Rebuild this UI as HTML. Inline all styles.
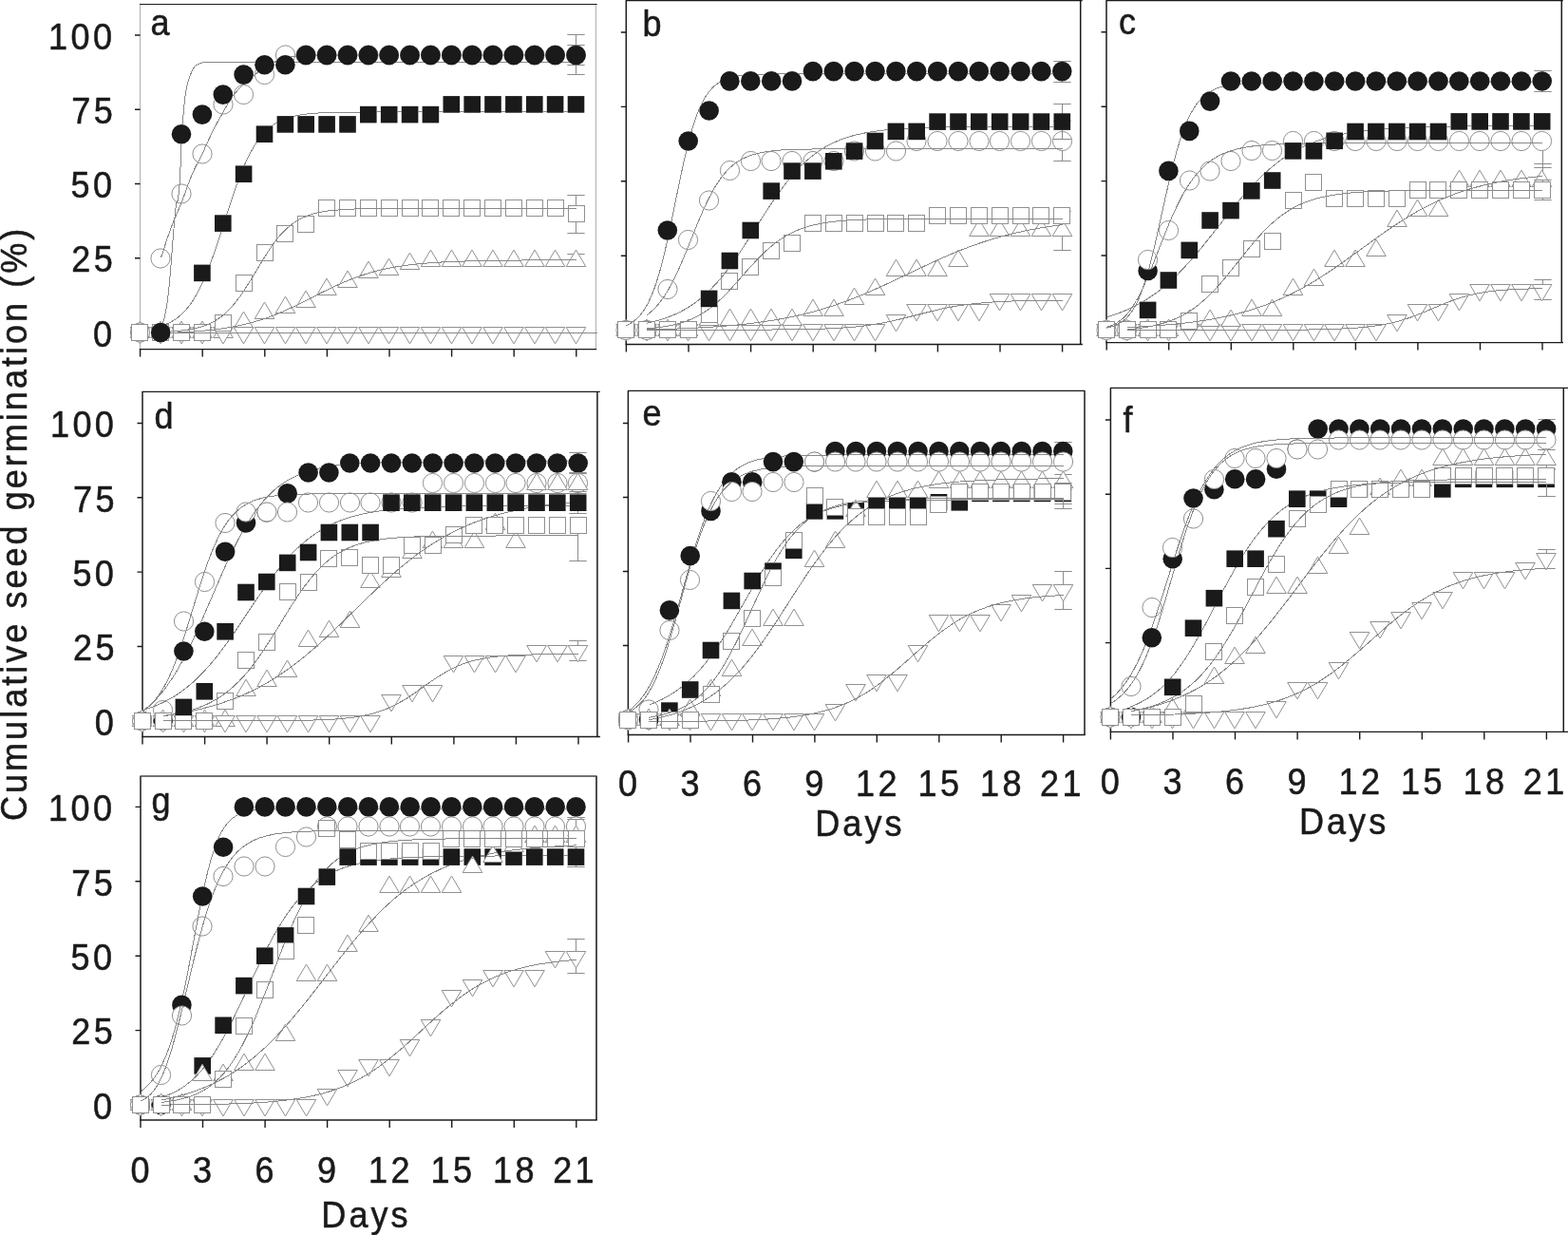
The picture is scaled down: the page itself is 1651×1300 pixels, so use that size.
<!DOCTYPE html>
<html lang="en">
<head>
<meta charset="utf-8">
<title>Cumulative seed germination</title>
<style>
html,body{margin:0;padding:0;background:#fff}
body{width:1651px;height:1300px;overflow:hidden}
svg{display:block}
text{font-family:'Liberation Sans', sans-serif;fill:#1a1a1a;stroke:#1a1a1a;stroke-width:0.55px;stroke-linejoin:round}
.yl{font-size:39.2px;text-anchor:end;letter-spacing:3.7px}
.xl{font-size:39.2px;text-anchor:middle;letter-spacing:3.7px}
.lt{font-size:39.2px}
.dl{font-size:39.2px;text-anchor:middle;letter-spacing:3.3px}
.ya{font-size:39.2px;text-anchor:middle;letter-spacing:3.27px}
path{fill:none}
.fr{stroke:#aeaeae;stroke-width:1}
.md{stroke:#444;stroke-width:1.9}
.g17{stroke:#444;stroke-width:1.7}
.k1{stroke:#1a1a1a;stroke-width:1.15}
.dk{stroke:#1a1a1a;stroke-width:1.5}
.ax{stroke:#1a1a1a;stroke-width:1.4}
.tk{stroke:#1a1a1a;stroke-width:1.4}
.cv{stroke:#888888;stroke-width:1;stroke-linejoin:round;mix-blend-mode:darken;shape-rendering:crispEdges}
.eb{stroke:#8c8c8c;stroke-width:1}
.f circle,.f rect{fill:#1a1a1a;stroke:none}
.o circle,.o rect,.o path{fill:#fff;stroke:#909090;stroke-width:1}
</style>
</head>
<body>
<svg width="1651" height="1300" viewBox="0 0 1651 1300" role="img" aria-label="Cumulative seed germination over 21 days, panels a to g">
<rect width="1651" height="1300" fill="#fff"/>
<g id="panel-a">
<path d="M147.5 4.5V367.6" class="fr"/>
<path d="M627.5 4.5V367.6" class="fr"/>
<path d="M147 4.5H628.6" class="k1"/>
<path d="M146.8 367.6H628.2" class="ax"/>
<path d="M147.6 367.6v8M213.2 367.6v8M278.8 367.6v8M344.4 367.6v8M410 367.6v8M475.6 367.6v8M541.2 367.6v8M606.8 367.6v8M147.5 350h-5.5M147.5 271.8h-5.5M147.5 193.5h-5.5M147.5 115.2h-5.5M147.5 37h-5.5" class="tk"/>
<path d="M606.5 267.5V274.5M597.3 267.5h18.4" class="eb"/>
<g class="o">
<path d="M147.5 338.1L157.8 355.5H137.2Z"/><path d="M169 338.1L179.3 355.5H158.7Z"/><path d="M191 338.1L201.3 355.5H180.7Z"/><path d="M213 338.1L223.3 355.5H202.7Z"/><path d="M235 338.1L245.3 355.5H224.7Z"/><path d="M256.5 328.1L266.8 345.5H246.2Z"/><path d="M278.5 318.1L288.8 335.5H268.2Z"/><path d="M300.5 312.1L310.8 329.5H290.2Z"/><path d="M322 306.1L332.3 323.5H311.7Z"/><path d="M344 293.1L354.3 310.5H333.7Z"/><path d="M366 285.1L376.3 302.5H355.7Z"/><path d="M388 275.1L398.3 292.5H377.7Z"/><path d="M409.5 272.1L419.8 289.5H399.2Z"/><path d="M431.5 266.1L441.8 283.5H421.2Z"/><path d="M453.5 263.1L463.8 280.5H443.2Z"/><path d="M475.5 263.1L485.8 280.5H465.2Z"/><path d="M497 263.1L507.3 280.5H486.7Z"/><path d="M519 263.1L529.3 280.5H508.7Z"/><path d="M541 263.1L551.3 280.5H530.7Z"/><path d="M563 263.1L573.3 280.5H552.7Z"/><path d="M584.5 263.1L594.8 280.5H574.2Z"/><path d="M606.5 263.1L616.8 280.5H596.2Z"/>
</g>
<g class="o">
<path d="M147.5 361.9L157.8 344.5H137.2Z"/><path d="M169 361.9L179.3 344.5H158.7Z"/><path d="M191 361.9L201.3 344.5H180.7Z"/><path d="M213 361.9L223.3 344.5H202.7Z"/><path d="M235 361.9L245.3 344.5H224.7Z"/><path d="M256.5 361.9L266.8 344.5H246.2Z"/><path d="M278.5 361.9L288.8 344.5H268.2Z"/><path d="M300.5 361.9L310.8 344.5H290.2Z"/><path d="M322 361.9L332.3 344.5H311.7Z"/><path d="M344 361.9L354.3 344.5H333.7Z"/><path d="M366 361.9L376.3 344.5H355.7Z"/><path d="M388 361.9L398.3 344.5H377.7Z"/><path d="M409.5 361.9L419.8 344.5H399.2Z"/><path d="M431.5 361.9L441.8 344.5H421.2Z"/><path d="M453.5 361.9L463.8 344.5H443.2Z"/><path d="M475.5 361.9L485.8 344.5H465.2Z"/><path d="M497 361.9L507.3 344.5H486.7Z"/><path d="M519 361.9L529.3 344.5H508.7Z"/><path d="M541 361.9L551.3 344.5H530.7Z"/><path d="M563 361.9L573.3 344.5H552.7Z"/><path d="M584.5 361.9L594.8 344.5H574.2Z"/><path d="M606.5 361.9L616.8 344.5H596.2Z"/>
</g>
<path d="M606.5 47.5V68.5M597.3 47.5h18.4M597.3 68.5h18.4" class="eb"/>
<g class="o">
<circle cx="147.5" cy="350" r="10.1"/><circle cx="169" cy="272" r="10.1"/><circle cx="191" cy="204" r="10.1"/><circle cx="213" cy="162" r="10.1"/><circle cx="235" cy="110" r="10.1"/><circle cx="256.5" cy="99.5" r="10.1"/><circle cx="278.5" cy="78.5" r="10.1"/><circle cx="300.5" cy="58" r="10.1"/><circle cx="322" cy="58" r="10.1"/><circle cx="344" cy="58" r="10.1"/><circle cx="366" cy="58" r="10.1"/><circle cx="388" cy="58" r="10.1"/><circle cx="409.5" cy="58" r="10.1"/><circle cx="431.5" cy="58" r="10.1"/><circle cx="453.5" cy="58" r="10.1"/><circle cx="475.5" cy="58" r="10.1"/><circle cx="497" cy="58" r="10.1"/><circle cx="519" cy="58" r="10.1"/><circle cx="541" cy="58" r="10.1"/><circle cx="563" cy="58" r="10.1"/><circle cx="584.5" cy="58" r="10.1"/><circle cx="606.5" cy="58" r="10.1"/>
</g>
<path d="M606.5 205.5V245.5M597.3 205.5h18.4M597.3 245.5h18.4" class="eb"/>
<g class="o">
<rect x="138.5" y="341.5" width="17" height="17"/><rect x="160.5" y="341.5" width="17" height="17"/><rect x="182.5" y="341.5" width="17" height="17"/><rect x="204.5" y="341.5" width="17" height="17"/><rect x="226.5" y="331.5" width="17" height="17"/><rect x="248.5" y="289.5" width="17" height="17"/><rect x="270.5" y="257.5" width="17" height="17"/><rect x="291.5" y="237.5" width="17" height="17"/><rect x="313.5" y="227.5" width="17" height="17"/><rect x="335.5" y="210.5" width="17" height="17"/><rect x="357.5" y="210.5" width="17" height="17"/><rect x="379.5" y="210.5" width="17" height="17"/><rect x="401.5" y="210.5" width="17" height="17"/><rect x="423.5" y="210.5" width="17" height="17"/><rect x="444.5" y="210.5" width="17" height="17"/><rect x="466.5" y="210.5" width="17" height="17"/><rect x="488.5" y="210.5" width="17" height="17"/><rect x="510.5" y="210.5" width="17" height="17"/><rect x="532.5" y="210.5" width="17" height="17"/><rect x="554.5" y="210.5" width="17" height="17"/><rect x="576.5" y="210.5" width="17" height="17"/><rect x="598.5" y="216.5" width="17" height="17"/>
</g>
<g class="f">
<rect x="204.1" y="278.6" width="17.6" height="17.6"/><rect x="226" y="226.3" width="17.6" height="17.6"/><rect x="247.8" y="174.4" width="17.6" height="17.6"/><rect x="269.7" y="132.4" width="17.6" height="17.6"/><rect x="291.6" y="122.1" width="17.6" height="17.6"/><rect x="313.4" y="122.1" width="17.6" height="17.6"/><rect x="335.3" y="122.1" width="17.6" height="17.6"/><rect x="357.2" y="122.1" width="17.6" height="17.6"/><rect x="379" y="111.8" width="17.6" height="17.6"/><rect x="400.9" y="111.8" width="17.6" height="17.6"/><rect x="422.8" y="111.8" width="17.6" height="17.6"/><rect x="444.6" y="111.8" width="17.6" height="17.6"/><rect x="466.5" y="101.1" width="17.6" height="17.6"/><rect x="488.4" y="101.1" width="17.6" height="17.6"/><rect x="510.2" y="101.1" width="17.6" height="17.6"/><rect x="532.1" y="101.1" width="17.6" height="17.6"/><rect x="554" y="101.1" width="17.6" height="17.6"/><rect x="575.8" y="101.1" width="17.6" height="17.6"/><rect x="597.7" y="101.1" width="17.6" height="17.6"/>
</g>
<path d="M606.5 36.5V78.5M597.3 36.5h18.4M597.3 78.5h18.4" class="eb"/>
<g class="f">
<circle cx="169.2" cy="350" r="10.3"/><circle cx="191" cy="141.2" r="10.3"/><circle cx="212.9" cy="120.6" r="10.3"/><circle cx="234.8" cy="99.6" r="10.3"/><circle cx="256.6" cy="78.6" r="10.3"/><circle cx="278.5" cy="68.3" r="10.3"/><circle cx="300.4" cy="68.3" r="10.3"/><circle cx="322.2" cy="58" r="10.3"/><circle cx="344.1" cy="58" r="10.3"/><circle cx="366" cy="58" r="10.3"/><circle cx="387.8" cy="58" r="10.3"/><circle cx="409.7" cy="58" r="10.3"/><circle cx="431.6" cy="58" r="10.3"/><circle cx="453.4" cy="58" r="10.3"/><circle cx="475.3" cy="58" r="10.3"/><circle cx="497.2" cy="58" r="10.3"/><circle cx="519" cy="58" r="10.3"/><circle cx="540.9" cy="58" r="10.3"/><circle cx="562.8" cy="58" r="10.3"/><circle cx="584.6" cy="58" r="10.3"/><circle cx="606.5" cy="58" r="10.3"/>
</g>
<path d="M169.5 340L171.5 340L173.4 333.3L175.4 323.5L177.4 308.3L179.4 286.8L183.4 235.6L185.4 214.7L187.4 210.8L189.3 192.1L191.3 145.6L193.3 116.7L195.3 98.1L197.3 88.5L199.3 81.9L201.3 76.8L203.3 72.5L205.2 69.6L207.2 68.3L209.2 67.3L211.2 66.5L213.2 65.9L215.2 65.6L217.2 65.6L606.8 65.6" class="cv"/>
<path d="M169.5 271L171.5 265.4L175.4 253.2L179.4 241.6L181.4 236.4L183.4 231.5L189.3 217.5L191.3 212.7L193.3 207.4L199.3 190.8L201.3 185.7L203.3 181.2L205.2 177.1L211.2 165.6L213.2 161.6L221.2 144L225.1 135.8L231.1 124.8L239 110.9L243 104.3L245 101.3L247 98.7L251 94.1L253 92L256.9 88.1L258.9 86.3L262.9 83L274.8 73.5L276.8 72.1L278.8 70.7L280.8 69.5L284.8 67.3L288.7 65.2L292.7 63.3L294.7 62.5L298.7 61.3L300.7 60.9L306.6 59.8L312.6 58.9L316.6 58.5L320.5 58.4L342.4 58.1L364.3 58L606.8 58" class="cv"/>
<path d="M169.5 343.4L173.4 342L175.4 341.1L179.4 339.2L181.4 338.1L185.4 335.6L187.4 334.1L191.3 330.7L193.3 328.8L195.3 326.6L197.3 324.3L199.3 321.8L201.3 319.1L203.3 316.1L205.2 313L207.2 309.5L211.2 301.9L213.2 297.7L217.2 288.6L221.2 278.5L225.1 267.5L229.1 255.8L243 212.8L249 195.4L253 184.7L254.9 179.7L258.9 170.5L260.9 166.3L262.9 162.3L264.9 158.6L266.9 155.1L268.9 151.9L270.9 148.9L272.8 146.1L274.8 143.5L276.8 141.2L278.8 139L280.8 137.1L282.8 135.3L286.8 132.1L288.7 130.7L292.7 128.4L296.7 126.4L298.7 125.6L302.7 124.1L308.6 122.5L314.6 121.2L320.5 120.3L328.5 119.5L336.5 118.9L346.4 118.5L366.3 118.1L396.1 118L606.8 117.9" class="cv"/>
<path d="M169.5 349.6L181.4 348.9L191.3 348L199.3 346.9L203.3 346.2L207.2 345.3L211.2 344.2L215.2 342.9L219.2 341.3L221.2 340.4L225.1 338.4L227.1 337.3L231.1 334.6L233.1 333.2L237.1 329.9L239 328.1L243 324.1L247 319.5L249 317L253 311.7L256.9 305.9L260.9 299.7L264.9 293.3L276.8 273.4L282.8 264L286.8 258.2L288.7 255.4L292.7 250.3L294.7 248L298.7 243.7L302.7 239.9L306.6 236.6L310.6 233.8L314.6 231.3L318.6 229.3L322.5 227.6L328.5 225.5L332.5 224.4L338.4 223.1L342.4 222.4L348.4 221.6L354.3 221.1L362.3 220.5L370.2 220.1L380.2 219.8L400.1 219.5L427.9 219.4L606.8 219.4" class="cv"/>
<path d="M169.5 350.7L185.4 350.1L199.3 349.4L213.2 348.3L225.1 347.1L237.1 345.4L247 343.7L256.9 341.6L266.9 339L274.8 336.7L282.8 334L290.7 330.9L298.7 327.6L306.6 324L314.6 320.2L340.4 307.1L350.4 302.3L360.3 297.8L370.2 293.7L380.2 290.1L386.1 288.2L392.1 286.4L398.1 284.8L404 283.4L410 282.2L416 281.1L421.9 280.1L429.9 279L435.8 278.3L443.8 277.5L459.7 276.3L469.6 275.7L479.6 275.3L501.4 274.6L527.3 274.2L561.1 273.9L606.8 273.8" class="cv"/>
<path d="M169.5 350L628.5 350" class="cv"/>
<text transform="translate(158.6 36.8) scale(0.92 1)" class="lt">a</text>
<text transform="translate(121.5 51.7) scale(0.92 1)" class="yl">100</text>
<text transform="translate(122.1 129.9) scale(0.92 1)" class="yl">75</text>
<text transform="translate(121.5 208.2) scale(0.92 1)" class="yl">50</text>
<text transform="translate(122.1 286.4) scale(0.92 1)" class="yl">25</text>
<text transform="translate(121.5 364.7) scale(0.92 1)" class="yl">0</text>
</g>
<g id="panel-b">
<path d="M659.3 0.6V362.5" class="dk"/>
<path d="M1137.7 0.6V362.5" class="dk"/>
<path d="M658.8 0.6H1139.7" class="k1"/>
<path d="M658.6 362.5H1139.9" class="ax"/>
<path d="M659.4 362.5v8M725 362.5v8M790.6 362.5v8M856.2 362.5v8M921.8 362.5v8M987.4 362.5v8M1053 362.5v8M1118.6 362.5v8M659.3 347.6h-5.5M659.3 269.2h-5.5M659.3 190.8h-5.5M659.3 112.4h-5.5M659.3 34h-5.5" class="tk"/>
<g class="o">
<path d="M659 358.9L669.3 341.5H648.7Z"/><path d="M681 358.9L691.3 341.5H670.7Z"/><path d="M703 358.9L713.3 341.5H692.7Z"/><path d="M724.5 358.9L734.8 341.5H714.2Z"/><path d="M746.5 358.9L756.8 341.5H736.2Z"/><path d="M768.5 358.9L778.8 341.5H758.2Z"/><path d="M790.5 358.9L800.8 341.5H780.2Z"/><path d="M812 358.9L822.3 341.5H801.7Z"/><path d="M834 358.9L844.3 341.5H823.7Z"/><path d="M856 358.9L866.3 341.5H845.7Z"/><path d="M878 358.9L888.3 341.5H867.7Z"/><path d="M899.5 358.9L909.8 341.5H889.2Z"/><path d="M921.5 358.9L931.8 341.5H911.2Z"/><path d="M943.5 348.9L953.8 331.5H933.2Z"/><path d="M965 337.9L975.3 320.5H954.7Z"/><path d="M987 337.9L997.3 320.5H976.7Z"/><path d="M1009 337.9L1019.3 320.5H998.7Z"/><path d="M1031 337.9L1041.3 320.5H1020.7Z"/><path d="M1052.5 326.9L1062.8 309.5H1042.2Z"/><path d="M1074.5 326.9L1084.8 309.5H1064.2Z"/><path d="M1096.5 326.9L1106.8 309.5H1086.2Z"/><path d="M1118.5 326.9L1128.8 309.5H1108.2Z"/>
</g>
<path d="M1118.5 222.5V263.5M1109.3 222.5h18.4M1109.3 263.5h18.4" class="eb"/>
<g class="o">
<path d="M659 336.1L669.3 353.5H648.7Z"/><path d="M681 336.1L691.3 353.5H670.7Z"/><path d="M703 336.1L713.3 353.5H692.7Z"/><path d="M724.5 336.1L734.8 353.5H714.2Z"/><path d="M746.5 325.1L756.8 342.5H736.2Z"/><path d="M768.5 325.1L778.8 342.5H758.2Z"/><path d="M790.5 325.1L800.8 342.5H780.2Z"/><path d="M812 325.1L822.3 342.5H801.7Z"/><path d="M834 325.1L844.3 342.5H823.7Z"/><path d="M856 315.1L866.3 332.5H845.7Z"/><path d="M878 315.1L888.3 332.5H867.7Z"/><path d="M899.5 303.1L909.8 320.5H889.2Z"/><path d="M921.5 293.1L931.8 310.5H911.2Z"/><path d="M943.5 273.1L953.8 290.5H933.2Z"/><path d="M965 273.1L975.3 290.5H954.7Z"/><path d="M987 273.1L997.3 290.5H976.7Z"/><path d="M1009 263.1L1019.3 280.5H998.7Z"/><path d="M1031 231.1L1041.3 248.5H1020.7Z"/><path d="M1052.5 231.1L1062.8 248.5H1042.2Z"/><path d="M1074.5 231.1L1084.8 248.5H1064.2Z"/><path d="M1096.5 231.1L1106.8 248.5H1086.2Z"/><path d="M1118.5 231.1L1128.8 248.5H1108.2Z"/>
</g>
<path d="M1118.5 127.5V169.5M1109.3 127.5h18.4M1109.3 169.5h18.4" class="eb"/>
<g class="o">
<circle cx="659" cy="347.5" r="10.1"/><circle cx="681" cy="347.5" r="10.1"/><circle cx="703" cy="304.5" r="10.1"/><circle cx="724.5" cy="252.5" r="10.1"/><circle cx="746.5" cy="211" r="10.1"/><circle cx="768.5" cy="179.5" r="10.1"/><circle cx="790.5" cy="169.5" r="10.1"/><circle cx="812" cy="169.5" r="10.1"/><circle cx="834" cy="169.5" r="10.1"/><circle cx="856" cy="169.5" r="10.1"/><circle cx="878" cy="169.5" r="10.1"/><circle cx="899.5" cy="159" r="10.1"/><circle cx="921.5" cy="159" r="10.1"/><circle cx="943.5" cy="159" r="10.1"/><circle cx="965" cy="148.5" r="10.1"/><circle cx="987" cy="148.5" r="10.1"/><circle cx="1009" cy="148.5" r="10.1"/><circle cx="1031" cy="148.5" r="10.1"/><circle cx="1052.5" cy="148.5" r="10.1"/><circle cx="1074.5" cy="148.5" r="10.1"/><circle cx="1096.5" cy="148.5" r="10.1"/><circle cx="1118.5" cy="148.5" r="10.1"/>
</g>
<g class="o">
<rect x="650.5" y="338.5" width="17" height="17"/><rect x="672.5" y="338.5" width="17" height="17"/><rect x="694.5" y="338.5" width="17" height="17"/><rect x="716.5" y="338.5" width="17" height="17"/><rect x="738.5" y="322.5" width="17" height="17"/><rect x="759.5" y="287.5" width="17" height="17"/><rect x="781.5" y="272.5" width="17" height="17"/><rect x="803.5" y="255.5" width="17" height="17"/><rect x="825.5" y="247.5" width="17" height="17"/><rect x="847.5" y="226.5" width="17" height="17"/><rect x="869.5" y="226.5" width="17" height="17"/><rect x="891.5" y="226.5" width="17" height="17"/><rect x="913.5" y="226.5" width="17" height="17"/><rect x="934.5" y="226.5" width="17" height="17"/><rect x="956.5" y="226.5" width="17" height="17"/><rect x="978.5" y="218.5" width="17" height="17"/><rect x="1000.5" y="218.5" width="17" height="17"/><rect x="1022.5" y="218.5" width="17" height="17"/><rect x="1044.5" y="218.5" width="17" height="17"/><rect x="1066.5" y="218.5" width="17" height="17"/><rect x="1087.5" y="218.5" width="17" height="17"/><rect x="1109.5" y="218.5" width="17" height="17"/>
</g>
<path d="M1118.5 64.5V86.5M1109.3 64.5h18.4M1109.3 86.5h18.4" class="eb"/>
<g class="f">
<circle cx="702.8" cy="242.5" r="10.3"/><circle cx="724.7" cy="148.5" r="10.3"/><circle cx="746.6" cy="116.5" r="10.3"/><circle cx="768.4" cy="85.4" r="10.3"/><circle cx="790.3" cy="85.4" r="10.3"/><circle cx="812.2" cy="85.4" r="10.3"/><circle cx="834" cy="85.4" r="10.3"/><circle cx="855.9" cy="75.1" r="10.3"/><circle cx="877.8" cy="75.1" r="10.3"/><circle cx="899.6" cy="75.1" r="10.3"/><circle cx="921.5" cy="75.1" r="10.3"/><circle cx="943.4" cy="75.1" r="10.3"/><circle cx="965.2" cy="75.1" r="10.3"/><circle cx="987.1" cy="75.1" r="10.3"/><circle cx="1009" cy="75.1" r="10.3"/><circle cx="1030.8" cy="75.1" r="10.3"/><circle cx="1052.7" cy="75.1" r="10.3"/><circle cx="1074.6" cy="75.1" r="10.3"/><circle cx="1096.4" cy="75.1" r="10.3"/><circle cx="1118.3" cy="75.1" r="10.3"/>
</g>
<path d="M1118.5 109.5V146.5M1109.3 109.5h18.4M1109.3 146.5h18.4" class="eb"/>
<g class="f">
<rect x="737.8" y="305.6" width="17.6" height="17.6"/><rect x="759.6" y="265.7" width="17.6" height="17.6"/><rect x="781.5" y="233.7" width="17.6" height="17.6"/><rect x="803.4" y="192.3" width="17.6" height="17.6"/><rect x="825.2" y="171.3" width="17.6" height="17.6"/><rect x="847.1" y="171.3" width="17.6" height="17.6"/><rect x="869" y="161" width="17.6" height="17.6"/><rect x="890.8" y="150.3" width="17.6" height="17.6"/><rect x="912.7" y="139.7" width="17.6" height="17.6"/><rect x="934.6" y="129.6" width="17.6" height="17.6"/><rect x="956.4" y="129.6" width="17.6" height="17.6"/><rect x="978.3" y="119.3" width="17.6" height="17.6"/><rect x="1000.2" y="119.3" width="17.6" height="17.6"/><rect x="1022" y="119.3" width="17.6" height="17.6"/><rect x="1043.9" y="119.3" width="17.6" height="17.6"/><rect x="1065.8" y="119.3" width="17.6" height="17.6"/><rect x="1087.6" y="119.3" width="17.6" height="17.6"/><rect x="1109.5" y="119.3" width="17.6" height="17.6"/>
</g>
<path d="M1118.5 109.5V146.5M1109.3 146.5h18.4" class="cv"/>
<path d="M659.4 342.7L661.5 341.7L663.6 340.6L665.7 339.2L667.7 337.7L669.8 336L671.9 334L674 331.8L676.1 329.2L678.2 326.2L680.3 322.8L682.4 319L684.4 314.7L686.5 309.9L688.6 304.6L690.7 298.6L692.8 292.1L694.9 285L697 277.2L699.1 268.9L701.1 260.1L705.3 241L715.8 190L719.9 170.6L724.1 152.9L726.2 144.9L728.3 137.5L730.4 130.7L732.5 124.5L734.5 118.9L736.6 113.9L738.7 109.4L740.8 105.4L742.9 101.8L745 98.7L747.1 95.9L749.2 93.5L751.2 91.4L753.3 89.6L755.4 88L757.5 86.6L759.6 85.4L761.7 84.3L763.8 83.4L767.9 82L772.1 80.9L776.3 80.1L782.6 79.3L788.8 78.7L797.2 78.3L805.5 78.1L822.2 77.9L849.3 77.8L1118.6 77.8" class="cv"/>
<path d="M681.3 331.6L685.2 328.5L689.2 324.7L693.2 320.3L695.2 317.8L699.2 312.3L701.1 309.2L703.1 306L707.1 298.9L711.1 291L713.1 286.8L717 277.9L723 263.7L734.9 234.1L740.9 220.3L744.9 211.7L748.9 203.9L752.8 196.9L754.8 193.7L756.8 190.7L760.8 185.2L764.8 180.5L768.7 176.5L772.7 173.1L776.7 170.2L780.7 167.8L782.7 166.8L786.6 165L790.6 163.5L796.6 161.7L802.5 160.4L808.5 159.4L814.5 158.7L822.4 158L832.3 157.5L842.3 157.2L862.2 156.9L894 156.8L1118.6 156.7" class="cv"/>
<path d="M681.3 340.1L687.2 338.8L691.2 337.8L697.2 336L701.1 334.7L705.1 333.2L709.1 331.6L713.1 329.8L717 327.9L721 325.7L725 323.3L729 320.7L733 317.9L736.9 314.8L740.9 311.5L746.9 306L752.8 299.8L758.8 293.1L764.8 285.7L770.7 277.7L776.7 269.2L782.7 260.3L788.6 251L804.5 226L814.5 210.8L820.4 202.3L824.4 196.9L828.4 191.7L832.3 186.8L838.3 180L842.3 175.8L848.3 170L854.2 164.9L860.2 160.4L866.1 156.4L872.1 153L878.1 150L884 147.5L888 146L892 144.6L899.9 142.3L907.9 140.5L915.8 139L925.8 137.6L935.7 136.5L945.7 135.7L957.6 135L969.5 134.5L983.4 134.1L1001.3 133.8L1045.1 133.4L1118.6 133.3" class="cv"/>
<path d="M681.3 345.8L691.2 344.9L699.2 343.9L707.1 342.4L711.1 341.5L715.1 340.5L719 339.3L723 337.9L729 335.5L734.9 332.6L740.9 329.1L746.9 325L750.8 321.9L754.8 318.6L760.8 313.1L764.8 309.1L770.7 302.8L788.6 282.6L796.6 273.9L800.5 269.8L804.5 265.9L808.5 262.3L812.5 258.9L816.4 255.7L822.4 251.5L826.4 249L832.3 245.7L836.3 243.8L842.3 241.3L848.3 239.2L854.2 237.5L860.2 236.1L866.1 235L872.1 234L880.1 233L888 232.3L896 231.7L905.9 231.2L917.8 230.8L939.7 230.4L971.5 230.2L1118.6 230.1" class="cv"/>
<path d="M681.3 347L709.1 346.2L734.9 345L746.9 344.3L758.8 343.5L768.7 342.7L778.7 341.8L788.6 340.7L798.6 339.4L808.5 338L816.4 336.7L826.4 335L834.3 333.4L842.3 331.6L850.2 329.7L858.2 327.6L864.2 325.9L876.1 322.2L882 320.2L890 317.4L903.9 312L915.8 307L929.8 300.8L941.7 295.2L975.5 279.1L993.4 271L1003.3 266.7L1011.3 263.5L1021.2 259.7L1029.2 256.8L1039.1 253.5L1049 250.5L1059 247.7L1070.9 244.8L1082.8 242.3L1094.8 240.1L1106.7 238.2L1118.6 236.6" class="cv"/>
<path d="M681.3 347.3L782.7 347.2L830.4 346.9L848.3 346.6L864.2 346.2L878.1 345.6L890 344.9L899.9 344.1L909.9 343L919.8 341.6L929.8 339.9L937.7 338.3L947.6 336L977.5 328.5L991.4 325.2L999.3 323.6L1005.3 322.5L1011.3 321.5L1019.2 320.4L1027.2 319.5L1037.1 318.6L1047 317.9L1059 317.2L1070.9 316.8L1084.8 316.5L1118.6 316.1" class="cv"/>
<text transform="translate(676.6 37.8) scale(0.92 1)" class="lt">b</text>
</g>
<g id="panel-c">
<path d="M1165 0.6V360.6" class="dk"/>
<path d="M1644.3 0.6V360.6" class="dk"/>
<path d="M1164.5 0.6H1645.8" class="k1"/>
<path d="M1164.3 360.6H1646" class="ax"/>
<path d="M1165.2 360.6v8M1230.7 360.6v8M1296.3 360.6v8M1361.8 360.6v8M1427.4 360.6v8M1492.9 360.6v8M1558.5 360.6v8M1624 360.6v8M1165 347.4h-5.5M1165 269h-5.5M1165 190.6h-5.5M1165 112.2h-5.5M1165 33.8h-5.5" class="tk"/>
<path d="M1624.5 294.5V315.5M1615.3 294.5h18.4M1615.3 315.5h18.4" class="eb"/>
<g class="o">
<path d="M1165 358.9L1175.3 341.5H1154.7Z"/><path d="M1186.5 358.9L1196.8 341.5H1176.2Z"/><path d="M1208.5 358.9L1218.8 341.5H1198.2Z"/><path d="M1230.5 358.9L1240.8 341.5H1220.2Z"/><path d="M1252.5 358.9L1262.8 341.5H1242.2Z"/><path d="M1274 358.9L1284.3 341.5H1263.7Z"/><path d="M1296 358.9L1306.3 341.5H1285.7Z"/><path d="M1318 358.9L1328.3 341.5H1307.7Z"/><path d="M1339.5 358.9L1349.8 341.5H1329.2Z"/><path d="M1361.5 358.9L1371.8 341.5H1351.2Z"/><path d="M1383.5 358.9L1393.8 341.5H1373.2Z"/><path d="M1405 358.9L1415.3 341.5H1394.7Z"/><path d="M1427 358.9L1437.3 341.5H1416.7Z"/><path d="M1449 358.9L1459.3 341.5H1438.7Z"/><path d="M1471 348.9L1481.3 331.5H1460.7Z"/><path d="M1492.5 337.9L1502.8 320.5H1482.2Z"/><path d="M1514.5 337.9L1524.8 320.5H1504.2Z"/><path d="M1536.5 326.9L1546.8 309.5H1526.2Z"/><path d="M1558 316.9L1568.3 299.5H1547.7Z"/><path d="M1580 316.9L1590.3 299.5H1569.7Z"/><path d="M1602 316.9L1612.3 299.5H1591.7Z"/><path d="M1623.5 316.9L1633.8 299.5H1613.2Z"/>
</g>
<path d="M1624.5 74.5V96.5M1615.3 74.5h18.4M1615.3 96.5h18.4" class="eb"/>
<g class="f">
<circle cx="1208.6" cy="285" r="10.3"/><circle cx="1230.4" cy="179.9" r="10.3"/><circle cx="1252.3" cy="137.9" r="10.3"/><circle cx="1274.1" cy="106.6" r="10.3"/><circle cx="1296" cy="85.5" r="10.3"/><circle cx="1317.8" cy="85.5" r="10.3"/><circle cx="1339.7" cy="85.5" r="10.3"/><circle cx="1361.5" cy="85.5" r="10.3"/><circle cx="1383.4" cy="85.5" r="10.3"/><circle cx="1405.2" cy="85.5" r="10.3"/><circle cx="1427.1" cy="85.5" r="10.3"/><circle cx="1448.9" cy="85.5" r="10.3"/><circle cx="1470.8" cy="85.5" r="10.3"/><circle cx="1492.6" cy="85.5" r="10.3"/><circle cx="1514.5" cy="85.5" r="10.3"/><circle cx="1536.3" cy="85.5" r="10.3"/><circle cx="1558.2" cy="85.5" r="10.3"/><circle cx="1580" cy="85.5" r="10.3"/><circle cx="1601.9" cy="85.5" r="10.3"/><circle cx="1623.7" cy="85.5" r="10.3"/>
</g>
<path d="M1624.5 148.5V176.5M1615.3 176.5h18.4" class="eb"/>
<g class="o">
<circle cx="1165" cy="347.5" r="10.1"/><circle cx="1186.5" cy="347.5" r="10.1"/><circle cx="1208.5" cy="273.5" r="10.1"/><circle cx="1230.5" cy="242.5" r="10.1"/><circle cx="1252.5" cy="190" r="10.1"/><circle cx="1274" cy="180" r="10.1"/><circle cx="1296" cy="169.5" r="10.1"/><circle cx="1318" cy="158.5" r="10.1"/><circle cx="1339.5" cy="158.5" r="10.1"/><circle cx="1361.5" cy="148.5" r="10.1"/><circle cx="1383.5" cy="148.5" r="10.1"/><circle cx="1405" cy="148.5" r="10.1"/><circle cx="1427" cy="148.5" r="10.1"/><circle cx="1449" cy="148.5" r="10.1"/><circle cx="1471" cy="148.5" r="10.1"/><circle cx="1492.5" cy="148.5" r="10.1"/><circle cx="1514.5" cy="148.5" r="10.1"/><circle cx="1536.5" cy="148.5" r="10.1"/><circle cx="1558" cy="148.5" r="10.1"/><circle cx="1580" cy="148.5" r="10.1"/><circle cx="1602" cy="148.5" r="10.1"/><circle cx="1623.5" cy="148.5" r="10.1"/>
</g>
<path d="M1624.5 172.5V190.5M1615.3 172.5h18.4" class="eb"/>
<g class="o">
<path d="M1165 336.1L1175.3 353.5H1154.7Z"/><path d="M1186.5 336.1L1196.8 353.5H1176.2Z"/><path d="M1208.5 336.1L1218.8 353.5H1198.2Z"/><path d="M1230.5 336.1L1240.8 353.5H1220.2Z"/><path d="M1252.5 326.1L1262.8 343.5H1242.2Z"/><path d="M1274 326.1L1284.3 343.5H1263.7Z"/><path d="M1296 326.1L1306.3 343.5H1285.7Z"/><path d="M1318 315.1L1328.3 332.5H1307.7Z"/><path d="M1339.5 315.1L1349.8 332.5H1329.2Z"/><path d="M1361.5 293.1L1371.8 310.5H1351.2Z"/><path d="M1383.5 283.1L1393.8 300.5H1373.2Z"/><path d="M1405 263.1L1415.3 280.5H1394.7Z"/><path d="M1427 263.1L1437.3 280.5H1416.7Z"/><path d="M1449 252.1L1459.3 269.5H1438.7Z"/><path d="M1471 221.1L1481.3 238.5H1460.7Z"/><path d="M1492.5 210.1L1502.8 227.5H1482.2Z"/><path d="M1514.5 210.1L1524.8 227.5H1504.2Z"/><path d="M1536.5 179.1L1546.8 196.5H1526.2Z"/><path d="M1558 179.1L1568.3 196.5H1547.7Z"/><path d="M1580 179.1L1590.3 196.5H1569.7Z"/><path d="M1602 179.1L1612.3 196.5H1591.7Z"/><path d="M1623.5 179.1L1633.8 196.5H1613.2Z"/>
</g>
<path d="M1624.5 189.5V210.5M1615.3 189.5h18.4M1615.3 210.5h18.4" class="eb"/>
<g class="o">
<rect x="1156.5" y="338.5" width="17" height="17"/><rect x="1178.5" y="338.5" width="17" height="17"/><rect x="1200.5" y="338.5" width="17" height="17"/><rect x="1221.5" y="338.5" width="17" height="17"/><rect x="1243.5" y="329.5" width="17" height="17"/><rect x="1265.5" y="290.5" width="17" height="17"/><rect x="1287.5" y="273.5" width="17" height="17"/><rect x="1309.5" y="253.5" width="17" height="17"/><rect x="1331.5" y="245.5" width="17" height="17"/><rect x="1353.5" y="202.5" width="17" height="17"/><rect x="1374.5" y="183.5" width="17" height="17"/><rect x="1396.5" y="200.5" width="17" height="17"/><rect x="1418.5" y="200.5" width="17" height="17"/><rect x="1440.5" y="200.5" width="17" height="17"/><rect x="1462.5" y="200.5" width="17" height="17"/><rect x="1484.5" y="191.5" width="17" height="17"/><rect x="1505.5" y="191.5" width="17" height="17"/><rect x="1527.5" y="191.5" width="17" height="17"/><rect x="1549.5" y="191.5" width="17" height="17"/><rect x="1571.5" y="191.5" width="17" height="17"/><rect x="1593.5" y="191.5" width="17" height="17"/><rect x="1615.5" y="191.5" width="17" height="17"/>
</g>
<g class="f">
<rect x="1199.8" y="317.6" width="17.6" height="17.6"/><rect x="1221.6" y="286.2" width="17.6" height="17.6"/><rect x="1243.5" y="254.6" width="17.6" height="17.6"/><rect x="1265.3" y="223.2" width="17.6" height="17.6"/><rect x="1287.2" y="212.8" width="17.6" height="17.6"/><rect x="1309" y="192.1" width="17.6" height="17.6"/><rect x="1330.9" y="181.2" width="17.6" height="17.6"/><rect x="1352.7" y="150.1" width="17.6" height="17.6"/><rect x="1374.6" y="150.1" width="17.6" height="17.6"/><rect x="1396.4" y="139.5" width="17.6" height="17.6"/><rect x="1418.3" y="129.7" width="17.6" height="17.6"/><rect x="1440.1" y="129.7" width="17.6" height="17.6"/><rect x="1462" y="129.7" width="17.6" height="17.6"/><rect x="1483.8" y="129.7" width="17.6" height="17.6"/><rect x="1505.7" y="129.7" width="17.6" height="17.6"/><rect x="1527.5" y="119.1" width="17.6" height="17.6"/><rect x="1549.4" y="119.1" width="17.6" height="17.6"/><rect x="1571.2" y="119.1" width="17.6" height="17.6"/><rect x="1593.1" y="119.1" width="17.6" height="17.6"/><rect x="1614.9" y="119.1" width="17.6" height="17.6"/>
</g>
<path d="M1165.2 345.1L1169.4 344.2L1171.5 343.6L1173.5 342.8L1175.6 342L1177.7 340.9L1179.8 339.7L1181.9 338.3L1184 336.7L1186.1 334.8L1188.1 332.5L1190.2 330L1192.3 327L1194.4 323.6L1196.5 319.8L1198.6 315.5L1200.7 310.6L1202.7 305.2L1204.8 299.2L1206.9 292.6L1209 285.5L1211.1 277.8L1213.2 269.7L1217.3 252.1L1227.8 204.9L1231.9 186.7L1234 178.1L1238.2 162.1L1240.3 154.8L1242.4 148.1L1244.4 141.8L1246.5 136L1248.6 130.8L1250.7 126L1252.8 121.6L1254.9 117.7L1257 114.2L1259 111L1261.1 108.2L1263.2 105.7L1265.3 103.4L1267.4 101.4L1269.5 99.7L1271.6 98.1L1273.6 96.7L1275.7 95.5L1279.9 93.5L1284.1 92L1288.2 90.8L1294.5 89.5L1300.8 88.6L1307 88L1315.4 87.5L1323.7 87.2L1340.4 87L1369.6 86.9L1624 86.8" class="cv"/>
<path d="M1165.2 344.4L1169.4 343.1L1171.5 342.2L1173.5 341.2L1175.6 340.1L1177.7 338.7L1179.8 337.2L1181.9 335.5L1184 333.5L1186.1 331.4L1188.1 328.9L1190.2 326.2L1192.3 323.3L1194.4 320L1196.5 316.5L1198.6 312.8L1202.7 304.5L1204.8 300L1209 290.4L1213.2 280.2L1227.8 243.2L1231.9 233.2L1236.1 223.7L1240.3 214.8L1244.4 206.7L1248.6 199.4L1252.8 192.8L1257 187L1261.1 181.9L1265.3 177.4L1269.5 173.5L1273.6 170.1L1277.8 167.2L1282 164.7L1284.1 163.6L1288.2 161.7L1290.3 160.8L1294.5 159.3L1300.8 157.4L1307 155.9L1313.3 154.7L1321.6 153.6L1330 152.8L1340.4 152.1L1352.9 151.6L1375.8 151.1L1411.3 150.9L1624 150.8" class="cv"/>
<path d="M1165.2 333.9L1173.5 331.2L1181.9 328.1L1186.1 326.4L1190.2 324.5L1194.4 322.5L1198.6 320.3L1202.7 318L1206.9 315.5L1213.2 311.3L1217.3 308.4L1221.5 305.2L1227.8 300.1L1234 294.5L1240.3 288.5L1246.5 282L1254.9 272.8L1261.1 265.5L1267.4 257.9L1275.7 247.5L1294.5 223.7L1304.9 210.9L1311.2 203.6L1315.4 199L1321.6 192.3L1325.8 188.1L1332 182.1L1338.3 176.6L1344.6 171.5L1350.8 166.9L1357.1 162.8L1363.3 159.1L1369.6 155.8L1375.8 152.8L1380 151L1384.2 149.4L1392.5 146.5L1400.9 144.1L1409.2 142.1L1419.6 140.1L1430.1 138.4L1440.5 137.2L1453 136L1465.5 135.1L1480.1 134.4L1494.7 133.9L1513.5 133.4L1534.3 133.1L1557.3 132.9L1624 132.7" class="cv"/>
<path d="M1187 347L1193 346.4L1199 345.6L1208.9 344L1214.9 342.8L1218.8 341.9L1222.8 340.8L1226.8 339.6L1230.7 338.3L1234.7 336.7L1238.7 335.1L1242.7 333.2L1246.6 331.1L1250.6 328.8L1256.6 324.9L1262.5 320.4L1268.5 315.3L1274.4 309.7L1280.4 303.5L1286.4 296.8L1292.3 289.7L1312.2 264.9L1320.1 255.2L1326.1 248.4L1330.1 244.1L1334 240.1L1338 236.3L1344 231.1L1347.9 227.9L1351.9 225L1357.9 221.1L1361.8 218.8L1367.8 215.8L1373.7 213.2L1379.7 211L1385.7 209.2L1393.6 207.2L1399.6 206L1407.5 204.7L1415.5 203.7L1423.4 202.9L1433.3 202.2L1443.3 201.6L1455.2 201.2L1467.1 200.9L1496.9 200.5L1540.6 200.4L1624 200.3" class="cv"/>
<path d="M1187 344.6L1199 344L1210.9 343.2L1222.8 342.4L1232.7 341.5L1242.7 340.6L1252.6 339.4L1262.5 338.1L1270.5 336.9L1278.4 335.5L1286.4 334L1294.3 332.3L1302.2 330.4L1310.2 328.3L1318.1 326L1326.1 323.4L1332 321.3L1340 318.2L1345.9 315.7L1351.9 313.1L1357.9 310.3L1363.8 307.3L1369.8 304.1L1375.7 300.8L1383.7 296.1L1395.6 288.6L1407.5 280.6L1419.4 272.2L1453.2 247.8L1463.1 240.9L1473.1 234.3L1483 228L1492.9 222.2L1502.9 216.9L1512.8 212.1L1518.7 209.4L1524.7 207L1530.7 204.6L1536.6 202.5L1542.6 200.5L1548.5 198.7L1554.5 197L1562.4 195L1568.4 193.6L1576.3 191.9L1582.3 190.8L1590.2 189.5L1598.2 188.3L1606.1 187.3L1614.1 186.4L1624 185.4" class="cv"/>
<path d="M1187 347.4L1320.1 347.3L1351.9 347.2L1373.7 347.1L1393.6 346.7L1411.5 346.1L1425.4 345.4L1437.3 344.3L1443.3 343.7L1449.2 342.9L1459.2 341.2L1465.1 339.9L1469.1 339L1477 336.8L1485 334.2L1492.9 331.2L1500.9 328L1520.7 319.6L1530.7 315.8L1536.6 313.8L1542.6 312L1546.5 311L1552.5 309.6L1558.5 308.4L1566.4 307.1L1574.4 306.1L1582.3 305.4L1590.2 304.8L1600.2 304.3L1612.1 303.9L1624 303.6" class="cv"/>
<text transform="translate(1178 36) scale(0.92 1)" class="lt">c</text>
</g>
<g id="panel-d">
<path d="M150 412.3V775.5" class="dk"/>
<path d="M628.9 412.3V775.5" class="md"/>
<path d="M149.5 412.3H631.8" class="k1"/>
<path d="M149.3 775.5H631.9" class="ax"/>
<path d="M150 775.5v8M215.6 775.5v8M281.1 775.5v8M346.7 775.5v8M412.3 775.5v8M477.9 775.5v8M543.4 775.5v8M609 775.5v8M150 758.8h-5.5M150 680.5h-5.5M150 602.1h-5.5M150 523.8h-5.5M150 445.5h-5.5" class="tk"/>
<path d="M608.5 476.5V498.5M599.3 476.5h18.4M599.3 498.5h18.4" class="eb"/>
<g class="f">
<circle cx="149.7" cy="758.8" r="10.3"/><circle cx="171.6" cy="758.8" r="10.3"/><circle cx="193.4" cy="685.5" r="10.3"/><circle cx="215.3" cy="664.8" r="10.3"/><circle cx="237.1" cy="580.8" r="10.3"/><circle cx="259" cy="550.5" r="10.3"/><circle cx="280.8" cy="539.2" r="10.3"/><circle cx="302.7" cy="519.4" r="10.3"/><circle cx="324.6" cy="497.5" r="10.3"/><circle cx="346.4" cy="497.5" r="10.3"/><circle cx="368.3" cy="487.5" r="10.3"/><circle cx="390.1" cy="487.5" r="10.3"/><circle cx="412" cy="487.5" r="10.3"/><circle cx="433.8" cy="487.5" r="10.3"/><circle cx="455.7" cy="487.5" r="10.3"/><circle cx="477.6" cy="487.5" r="10.3"/><circle cx="499.4" cy="487.5" r="10.3"/><circle cx="521.3" cy="487.5" r="10.3"/><circle cx="543.1" cy="487.5" r="10.3"/><circle cx="565" cy="487.5" r="10.3"/><circle cx="586.8" cy="487.5" r="10.3"/><circle cx="608.7" cy="487.5" r="10.3"/>
</g>
<path d="M608.5 497.5V519.5M599.3 497.5h18.4M599.3 519.5h18.4" class="eb"/>
<g class="o">
<circle cx="149.5" cy="759" r="10.1"/><circle cx="171.5" cy="747.5" r="10.1"/><circle cx="193.5" cy="654" r="10.1"/><circle cx="215.5" cy="612.5" r="10.1"/><circle cx="237" cy="550.5" r="10.1"/><circle cx="259" cy="539" r="10.1"/><circle cx="281" cy="539" r="10.1"/><circle cx="302.5" cy="539" r="10.1"/><circle cx="324.5" cy="529" r="10.1"/><circle cx="346.5" cy="529" r="10.1"/><circle cx="368.5" cy="529" r="10.1"/><circle cx="390" cy="529" r="10.1"/><circle cx="412" cy="529" r="10.1"/><circle cx="434" cy="529" r="10.1"/><circle cx="455.5" cy="508.5" r="10.1"/><circle cx="477.5" cy="508.5" r="10.1"/><circle cx="499.5" cy="508.5" r="10.1"/><circle cx="521.5" cy="508.5" r="10.1"/><circle cx="543" cy="508.5" r="10.1"/><circle cx="565" cy="508.5" r="10.1"/><circle cx="587" cy="508.5" r="10.1"/><circle cx="608.5" cy="508.5" r="10.1"/>
</g>
<g class="o">
<path d="M149.5 747.1L159.8 764.5H139.2Z"/><path d="M171.5 747.1L181.8 764.5H161.2Z"/><path d="M193.5 747.1L203.8 764.5H183.2Z"/><path d="M215.5 747.1L225.8 764.5H205.2Z"/><path d="M237 747.1L247.3 764.5H226.7Z"/><path d="M259 715.1L269.3 732.5H248.7Z"/><path d="M281 705.1L291.3 722.5H270.7Z"/><path d="M302.5 695.1L312.8 712.5H292.2Z"/><path d="M324.5 663.1L334.8 680.5H314.2Z"/><path d="M346.5 653.1L356.8 670.5H336.2Z"/><path d="M368.5 643.1L378.8 660.5H358.2Z"/><path d="M390 601.1L400.3 618.5H379.7Z"/><path d="M412 590.1L422.3 607.5H401.7Z"/><path d="M434 570.1L444.3 587.5H423.7Z"/><path d="M455.5 559.1L465.8 576.5H445.2Z"/><path d="M477.5 559.1L487.8 576.5H467.2Z"/><path d="M499.5 559.1L509.8 576.5H489.2Z"/><path d="M521.5 540.1L531.8 557.5H511.2Z"/><path d="M543 559.1L553.3 576.5H532.7Z"/><path d="M565 498.1L575.3 515.5H554.7Z"/><path d="M587 498.1L597.3 515.5H576.7Z"/><path d="M608.5 498.1L618.8 515.5H598.2Z"/>
</g>
<path d="M608.5 674.5V695.5M599.3 674.5h18.4M599.3 695.5h18.4" class="eb"/>
<g class="o">
<path d="M149.5 770.9L159.8 753.5H139.2Z"/><path d="M171.5 770.9L181.8 753.5H161.2Z"/><path d="M193.5 770.9L203.8 753.5H183.2Z"/><path d="M215.5 770.9L225.8 753.5H205.2Z"/><path d="M237 770.9L247.3 753.5H226.7Z"/><path d="M259 770.9L269.3 753.5H248.7Z"/><path d="M281 770.9L291.3 753.5H270.7Z"/><path d="M302.5 770.9L312.8 753.5H292.2Z"/><path d="M324.5 770.9L334.8 753.5H314.2Z"/><path d="M346.5 770.9L356.8 753.5H336.2Z"/><path d="M368.5 770.9L378.8 753.5H358.2Z"/><path d="M390 770.9L400.3 753.5H379.7Z"/><path d="M412 748.9L422.3 731.5H401.7Z"/><path d="M434 738.9L444.3 721.5H423.7Z"/><path d="M455.5 738.9L465.8 721.5H445.2Z"/><path d="M477.5 707.9L487.8 690.5H467.2Z"/><path d="M499.5 707.9L509.8 690.5H489.2Z"/><path d="M521.5 707.9L531.8 690.5H511.2Z"/><path d="M543 707.9L553.3 690.5H532.7Z"/><path d="M565 696.9L575.3 679.5H554.7Z"/><path d="M587 696.9L597.3 679.5H576.7Z"/><path d="M608.5 696.9L618.8 679.5H598.2Z"/>
</g>
<path d="M608.5 553.5V590.5M599.3 590.5h18.4" class="eb"/>
<g class="o">
<rect x="141.5" y="750.5" width="17" height="17"/><rect x="163.5" y="750.5" width="17" height="17"/><rect x="184.5" y="750.5" width="17" height="17"/><rect x="206.5" y="750.5" width="17" height="17"/><rect x="228.5" y="729.5" width="17" height="17"/><rect x="250.5" y="686.5" width="17" height="17"/><rect x="272.5" y="667.5" width="17" height="17"/><rect x="294.5" y="614.5" width="17" height="17"/><rect x="316.5" y="604.5" width="17" height="17"/><rect x="337.5" y="579.5" width="17" height="17"/><rect x="359.5" y="578.5" width="17" height="17"/><rect x="381.5" y="586.5" width="17" height="17"/><rect x="403.5" y="586.5" width="17" height="17"/><rect x="425.5" y="565.5" width="17" height="17"/><rect x="447.5" y="565.5" width="17" height="17"/><rect x="469.5" y="554.5" width="17" height="17"/><rect x="490.5" y="544.5" width="17" height="17"/><rect x="512.5" y="544.5" width="17" height="17"/><rect x="534.5" y="544.5" width="17" height="17"/><rect x="556.5" y="544.5" width="17" height="17"/><rect x="578.5" y="544.5" width="17" height="17"/><rect x="600.5" y="544.5" width="17" height="17"/>
</g>
<path d="M608.5 517.5V540.5M599.3 517.5h18.4M599.3 540.5h18.4" class="eb"/>
<g class="f">
<rect x="184.6" y="735.6" width="17.6" height="17.6"/><rect x="206.5" y="719" width="17.6" height="17.6"/><rect x="228.3" y="656" width="17.6" height="17.6"/><rect x="250.2" y="614.7" width="17.6" height="17.6"/><rect x="272" y="603.7" width="17.6" height="17.6"/><rect x="293.9" y="583.6" width="17.6" height="17.6"/><rect x="315.8" y="572.7" width="17.6" height="17.6"/><rect x="337.6" y="551.7" width="17.6" height="17.6"/><rect x="359.5" y="551.7" width="17.6" height="17.6"/><rect x="381.3" y="551.7" width="17.6" height="17.6"/><rect x="403.2" y="520.4" width="17.6" height="17.6"/><rect x="425" y="520.4" width="17.6" height="17.6"/><rect x="446.9" y="520.4" width="17.6" height="17.6"/><rect x="468.8" y="520.4" width="17.6" height="17.6"/><rect x="490.6" y="520.4" width="17.6" height="17.6"/><rect x="512.5" y="520.4" width="17.6" height="17.6"/><rect x="534.3" y="520.4" width="17.6" height="17.6"/><rect x="556.2" y="520.4" width="17.6" height="17.6"/><rect x="578" y="520.4" width="17.6" height="17.6"/><rect x="599.9" y="520.4" width="17.6" height="17.6"/>
</g>
<path d="M150 748.2L152.1 746.8L154.2 745.4L156.3 743.7L158.3 741.9L160.4 739.9L162.5 737.6L164.6 735.2L166.7 732.4L168.8 729.5L170.9 726.2L172.9 722.7L175 718.8L177.1 714.7L179.2 710.2L181.3 705.4L185.5 694.9L187.6 689.3L191.7 677.1L198 657.4L210.5 616.5L214.7 603.7L216.8 597.6L220.9 586.2L225.1 575.9L227.2 571.2L229.3 566.7L231.4 562.6L233.5 558.8L235.5 555.3L237.6 552L239.7 549L241.8 546.2L243.9 543.7L246 541.4L248.1 539.3L250.1 537.3L252.2 535.6L254.3 534L258.5 531.3L262.7 529L266.8 527.2L268.9 526.4L273.1 525.1L277.3 524L283.5 522.8L289.8 521.9L298.1 521.1L308.6 520.5L319 520.1L339.9 519.8L371.2 519.6L609 519.6" class="cv"/>
<path d="M150 749.1L154.2 745.8L156.3 744L160.4 740.1L164.6 735.8L166.7 733.5L170.9 728.6L175 723.1L177.1 720.2L181.3 714L185.5 707.3L189.6 700.1L193.8 692.4L198 684.3L202.2 675.7L206.3 666.7L214.7 647.9L233.5 604.4L239.7 590.5L243.9 581.7L250.1 569.2L254.3 561.4L258.5 554.1L262.7 547.3L266.8 541L271 535.2L275.2 530L277.3 527.5L281.4 522.9L285.6 518.8L287.7 516.8L291.9 513.3L294 511.7L298.1 508.7L300.2 507.3L304.4 504.8L310.6 501.5L314.8 499.6L319 497.9L323.2 496.5L327.3 495.2L331.5 494L335.7 493L344 491.4L348.2 490.7L354.5 489.8L364.9 488.7L377.4 487.8L389.9 487.2L404.5 486.7L421.2 486.4L440 486.2L492.2 486L609 485.9" class="cv"/>
<path d="M150 747.7L154.2 746.4L158.3 745L162.5 743.4L166.7 741.7L170.9 739.8L175 737.7L181.3 734.3L185.5 731.7L189.6 728.9L195.9 724.3L202.2 719.1L208.4 713.3L214.7 706.9L220.9 699.9L227.2 692.4L233.5 684.3L239.7 675.8L246 666.9L252.2 657.7L271 629.6L279.4 617.6L285.6 609L289.8 603.5L296 595.6L300.2 590.7L306.5 583.8L312.7 577.5L319 571.8L325.3 566.7L331.5 562.2L337.8 558.1L344 554.6L350.3 551.5L354.5 549.6L358.6 548L362.8 546.4L367 545L375.3 542.6L383.7 540.7L392 539.1L402.4 537.5L412.9 536.3L425.4 535.2L437.9 534.4L452.5 533.8L467.1 533.3L485.9 533L531.8 532.5L609 532.4" class="cv"/>
<path d="M171.9 753.8L177.8 752.9L183.8 751.9L189.7 750.7L193.7 749.7L199.7 748.1L203.6 746.9L209.6 744.8L213.6 743.2L217.6 741.5L221.5 739.5L225.5 737.4L229.5 735.1L233.5 732.5L237.4 729.6L241.4 726.5L245.4 723.1L251.3 717.5L257.3 711.1L263.3 704.1L267.2 699L271.2 693.6L277.2 685L283.1 675.9L289.1 666.4L305 640.5L312.9 628.2L316.9 622.4L320.9 616.8L324.9 611.6L328.8 606.7L332.8 602.2L336.8 598L340.8 594.2L342.7 592.4L346.7 589.1L350.7 586.1L352.7 584.7L356.6 582.2L360.6 579.9L366.6 577L372.5 574.6L378.5 572.6L384.5 570.9L392.4 569.2L400.4 567.9L408.3 566.9L418.2 566L428.2 565.4L438.1 564.9L450 564.6L479.8 564.1L521.6 564L609 563.9" class="cv"/>
<path d="M171.9 753.5L181.8 752.1L189.7 750.8L197.7 749.3L205.6 747.6L213.6 745.8L221.5 743.7L229.5 741.4L235.4 739.4L243.4 736.6L249.3 734.3L257.3 731L263.3 728.2L271.2 724.3L277.2 721.1L283.1 717.6L289.1 714L293.1 711.4L299 707.4L305 703.2L310.9 698.8L320.9 690.9L326.8 685.9L332.8 680.8L342.7 671.8L352.7 662.5L362.6 652.9L386.5 629.6L400.4 616.4L412.3 605.6L418.2 600.4L424.2 595.4L432.2 589L438.1 584.4L444.1 580.1L450 576L456 572.1L462 568.4L467.9 564.9L475.9 560.7L481.8 557.7L489.8 554L495.7 551.5L503.7 548.4L509.6 546.3L517.6 543.8L525.5 541.5L533.5 539.4L541.4 537.6L549.4 535.9L557.3 534.5L567.3 532.9L577.2 531.5L587.1 530.3L597.1 529.3L609 528.3" class="cv"/>
<path d="M171.9 758.8L277.2 758.7L303 758.5L322.9 758.2L340.8 757.7L354.7 756.9L366.6 755.8L376.5 754.5L382.5 753.4L386.5 752.6L392.4 751.1L396.4 750L402.3 748L406.3 746.5L410.3 744.8L414.3 742.9L418.2 740.9L422.2 738.7L426.2 736.4L430.2 733.9L438.1 728.5L452 718.6L458 714.5L463.9 710.7L469.9 707.1L475.9 704L481.8 701.2L487.8 698.8L491.8 697.4L495.7 696.2L499.7 695.1L503.7 694.2L507.7 693.4L513.6 692.3L523.6 691L535.5 690L547.4 689.4L563.3 688.9L583.2 688.6L609 688.4" class="cv"/>
<text transform="translate(162.5 451) scale(0.92 1)" class="lt">d</text>
<text transform="translate(123.3 460.2) scale(0.92 1)" class="yl">100</text>
<text transform="translate(123.9 538.5) scale(0.92 1)" class="yl">75</text>
<text transform="translate(123.3 616.9) scale(0.92 1)" class="yl">50</text>
<text transform="translate(123.9 695.2) scale(0.92 1)" class="yl">25</text>
<text transform="translate(123.3 773.5) scale(0.92 1)" class="yl">0</text>
</g>
<g id="panel-e">
<path d="M661.4 411.4V773.5" class="dk"/>
<path d="M1142 411.4V773.5" class="dk"/>
<path d="M660.9 411.4H1142.5" class="k1"/>
<path d="M660.7 773.5H1142.7" class="ax"/>
<path d="M661.6 773.5v8M727 773.5v8M792.5 773.5v8M857.9 773.5v8M923.3 773.5v8M988.8 773.5v8M1054.2 773.5v8M1119.6 773.5v8M661.4 757.5h-5.5M661.4 679.5h-5.5M661.4 601.5h-5.5M661.4 523.5h-5.5M661.4 445.5h-5.5" class="tk"/>
<path d="M1119.5 510.5V530.5M1110.3 510.5h18.4M1110.3 530.5h18.4" class="eb"/>
<g class="f">
<rect x="696.1" y="739.3" width="17.6" height="17.6"/><rect x="717.9" y="717.2" width="17.6" height="17.6"/><rect x="739.7" y="675.7" width="17.6" height="17.6"/><rect x="761.6" y="623.6" width="17.6" height="17.6"/><rect x="783.4" y="602.7" width="17.6" height="17.6"/><rect x="805.2" y="592.4" width="17.6" height="17.6"/><rect x="827" y="570.5" width="17.6" height="17.6"/><rect x="848.8" y="529.1" width="17.6" height="17.6"/><rect x="870.6" y="529.1" width="17.6" height="17.6"/><rect x="892.4" y="529.1" width="17.6" height="17.6"/><rect x="914.2" y="520" width="17.6" height="17.6"/><rect x="936" y="520" width="17.6" height="17.6"/><rect x="957.8" y="520" width="17.6" height="17.6"/><rect x="979.7" y="520" width="17.6" height="17.6"/><rect x="1001.5" y="520" width="17.6" height="17.6"/><rect x="1023.3" y="510.6" width="17.6" height="17.6"/><rect x="1045.1" y="510.6" width="17.6" height="17.6"/><rect x="1066.9" y="510.6" width="17.6" height="17.6"/><rect x="1088.7" y="510.6" width="17.6" height="17.6"/><rect x="1110.5" y="510.6" width="17.6" height="17.6"/>
</g>
<path d="M1119.5 465.5V484.5M1110.3 465.5h18.4M1110.3 484.5h18.4" class="eb"/>
<g class="f">
<circle cx="661.3" cy="757.5" r="10.3"/><circle cx="683.1" cy="757.5" r="10.3"/><circle cx="704.9" cy="642.4" r="10.3"/><circle cx="726.7" cy="585" r="10.3"/><circle cx="748.5" cy="537.9" r="10.3"/><circle cx="770.4" cy="507.3" r="10.3"/><circle cx="792.2" cy="507.3" r="10.3"/><circle cx="814" cy="486.1" r="10.3"/><circle cx="835.8" cy="486.1" r="10.3"/><circle cx="857.6" cy="486.1" r="10.3"/><circle cx="879.4" cy="475.1" r="10.3"/><circle cx="901.2" cy="475.1" r="10.3"/><circle cx="923" cy="475.1" r="10.3"/><circle cx="944.8" cy="475.1" r="10.3"/><circle cx="966.6" cy="475.1" r="10.3"/><circle cx="988.5" cy="475.1" r="10.3"/><circle cx="1010.3" cy="475.1" r="10.3"/><circle cx="1032.1" cy="475.1" r="10.3"/><circle cx="1053.9" cy="475.1" r="10.3"/><circle cx="1075.7" cy="475.1" r="10.3"/><circle cx="1097.5" cy="475.1" r="10.3"/><circle cx="1119.3" cy="475.1" r="10.3"/>
</g>
<g class="o">
<circle cx="661.5" cy="757.5" r="10.1"/><circle cx="683" cy="747" r="10.1"/><circle cx="705" cy="663.5" r="10.1"/><circle cx="726.5" cy="610.5" r="10.1"/><circle cx="748.5" cy="527.5" r="10.1"/><circle cx="770.5" cy="517.5" r="10.1"/><circle cx="792" cy="517.5" r="10.1"/><circle cx="814" cy="507.5" r="10.1"/><circle cx="836" cy="507.5" r="10.1"/><circle cx="857.5" cy="486" r="10.1"/><circle cx="879.5" cy="486" r="10.1"/><circle cx="901" cy="486" r="10.1"/><circle cx="923" cy="486" r="10.1"/><circle cx="945" cy="486" r="10.1"/><circle cx="966.5" cy="486" r="10.1"/><circle cx="988.5" cy="486" r="10.1"/><circle cx="1010.5" cy="486" r="10.1"/><circle cx="1032" cy="486" r="10.1"/><circle cx="1054" cy="486" r="10.1"/><circle cx="1075.5" cy="486" r="10.1"/><circle cx="1097.5" cy="486" r="10.1"/><circle cx="1119.5" cy="486" r="10.1"/>
</g>
<path d="M1119.5 601.5V641.5M1110.3 601.5h18.4M1110.3 641.5h18.4" class="eb"/>
<g class="o">
<path d="M661.5 768.9L671.8 751.5H651.2Z"/><path d="M683 768.9L693.3 751.5H672.7Z"/><path d="M705 768.9L715.3 751.5H694.7Z"/><path d="M726.5 768.9L736.8 751.5H716.2Z"/><path d="M748.5 768.9L758.8 751.5H738.2Z"/><path d="M770.5 768.9L780.8 751.5H760.2Z"/><path d="M792 768.9L802.3 751.5H781.7Z"/><path d="M814 768.9L824.3 751.5H803.7Z"/><path d="M836 768.9L846.3 751.5H825.7Z"/><path d="M857.5 768.9L867.8 751.5H847.2Z"/><path d="M879.5 758.9L889.8 741.5H869.2Z"/><path d="M901 737.9L911.3 720.5H890.7Z"/><path d="M923 727.9L933.3 710.5H912.7Z"/><path d="M945 727.9L955.3 710.5H934.7Z"/><path d="M966.5 696.9L976.8 679.5H956.2Z"/><path d="M988.5 664.9L998.8 647.5H978.2Z"/><path d="M1010.5 664.9L1020.8 647.5H1000.2Z"/><path d="M1032 664.9L1042.3 647.5H1021.7Z"/><path d="M1054 653.9L1064.3 636.5H1043.7Z"/><path d="M1075.5 643.9L1085.8 626.5H1065.2Z"/><path d="M1097.5 632.9L1107.8 615.5H1087.2Z"/><path d="M1119.5 632.9L1129.8 615.5H1109.2Z"/>
</g>
<path d="M1119.5 499.5V515.5M1110.3 499.5h18.4M1110.3 515.5h18.4" class="eb"/>
<g class="o">
<path d="M661.5 746.1L671.8 763.5H651.2Z"/><path d="M683 746.1L693.3 763.5H672.7Z"/><path d="M705 746.1L715.3 763.5H694.7Z"/><path d="M726.5 736.1L736.8 753.5H716.2Z"/><path d="M748.5 715.1L758.8 732.5H738.2Z"/><path d="M770.5 694.1L780.8 711.5H760.2Z"/><path d="M792 662.1L802.3 679.5H781.7Z"/><path d="M814 641.1L824.3 658.5H803.7Z"/><path d="M836 641.1L846.3 658.5H825.7Z"/><path d="M857.5 579.1L867.8 596.5H847.2Z"/><path d="M879.5 559.1L889.8 576.5H869.2Z"/><path d="M901 526.1L911.3 543.5H890.7Z"/><path d="M923 506.1L933.3 523.5H912.7Z"/><path d="M945 506.1L955.3 523.5H934.7Z"/><path d="M966.5 506.1L976.8 523.5H956.2Z"/><path d="M988.5 496.1L998.8 513.5H978.2Z"/><path d="M1010.5 496.1L1020.8 513.5H1000.2Z"/><path d="M1032 496.1L1042.3 513.5H1021.7Z"/><path d="M1054 496.1L1064.3 513.5H1043.7Z"/><path d="M1075.5 496.1L1085.8 513.5H1065.2Z"/><path d="M1097.5 496.1L1107.8 513.5H1087.2Z"/><path d="M1119.5 496.1L1129.8 513.5H1109.2Z"/>
</g>
<path d="M1119.5 508.5V535.5M1110.3 508.5h18.4M1110.3 535.5h18.4" class="eb"/>
<g class="o">
<rect x="652.5" y="749.5" width="17" height="17"/><rect x="674.5" y="749.5" width="17" height="17"/><rect x="696.5" y="749.5" width="17" height="17"/><rect x="718.5" y="749.5" width="17" height="17"/><rect x="740.5" y="722.5" width="17" height="17"/><rect x="761.5" y="666.5" width="17" height="17"/><rect x="783.5" y="642.5" width="17" height="17"/><rect x="805.5" y="599.5" width="17" height="17"/><rect x="827.5" y="560.5" width="17" height="17"/><rect x="849.5" y="513.5" width="17" height="17"/><rect x="870.5" y="525.5" width="17" height="17"/><rect x="892.5" y="535.5" width="17" height="17"/><rect x="914.5" y="535.5" width="17" height="17"/><rect x="936.5" y="535.5" width="17" height="17"/><rect x="958.5" y="535.5" width="17" height="17"/><rect x="979.5" y="522.5" width="17" height="17"/><rect x="1001.5" y="509.5" width="17" height="17"/><rect x="1023.5" y="509.5" width="17" height="17"/><rect x="1045.5" y="509.5" width="17" height="17"/><rect x="1067.5" y="509.5" width="17" height="17"/><rect x="1089.5" y="509.5" width="17" height="17"/><rect x="1110.5" y="509.5" width="17" height="17"/>
</g>
<path d="M661.6 748.4L665.8 745.2L667.8 743.3L669.9 741.3L672 739L674.1 736.6L676.2 733.9L678.3 731.1L680.3 727.9L682.4 724.5L684.5 720.9L686.6 716.9L688.7 712.7L690.7 708.2L692.8 703.3L694.9 698.2L697 692.8L701.2 681L703.2 674.7L707.4 661.3L713.6 639.9L726.1 595.2L730.3 581L734.5 567.6L738.6 555.3L742.8 544L744.9 538.9L747 534L749 529.5L751.1 525.2L753.2 521.3L755.3 517.6L757.4 514.2L759.4 511.1L761.5 508.2L763.6 505.5L765.7 503L767.8 500.8L769.9 498.7L771.9 496.9L776.1 493.6L780.3 490.9L784.4 488.7L786.5 487.7L790.7 486.1L792.8 485.4L796.9 484.1L803.2 482.7L809.4 481.7L817.7 480.7L826.1 480L836.5 479.5L846.9 479.2L857.3 479.1L888.5 478.9L1119.6 478.8" class="cv"/>
<path d="M661.6 749.8L663.7 748.7L665.8 747.4L667.8 746L669.9 744.4L672 742.6L674.1 740.6L676.2 738.3L678.3 735.8L680.3 733L682.4 729.9L684.5 726.4L686.6 722.7L688.7 718.6L690.7 714.2L692.8 709.3L694.9 704.2L699.1 692.8L701.2 686.5L705.3 673.2L711.6 651.4L724.1 605.8L728.2 591.4L732.4 577.8L736.5 565.4L740.7 554.2L742.8 549.1L744.9 544.2L747 539.7L749 535.5L751.1 531.6L753.2 528L755.3 524.7L757.4 521.6L759.4 518.8L761.5 516.2L763.6 513.8L765.7 511.6L767.8 509.6L769.9 507.8L774 504.6L778.2 502L782.3 499.8L784.4 498.9L788.6 497.2L790.7 496.5L794.8 495.4L801.1 494L807.3 492.9L815.7 492L826.1 491.2L836.5 490.8L857.3 490.3L888.5 490.1L1119.6 490.1" class="cv"/>
<path d="M683.4 742.1L687.4 740.5L691.3 738.9L697.3 736.1L701.3 734L705.2 731.7L711.2 727.9L715.1 725.1L719.1 722.1L725 717L731 711.4L736.9 705L742.9 698L748.8 690.3L754.8 682L760.7 673L766.7 663.4L772.6 653.3L792.5 618.4L800.4 604.9L806.3 595.3L810.3 589.2L814.3 583.4L818.2 578L824.2 570.5L828.1 565.9L832.1 561.7L834.1 559.7L838.1 556.1L842 552.7L844 551.2L848 548.3L853.9 544.5L859.9 541.3L865.8 538.6L869.8 537.1L873.8 535.7L879.7 534L887.6 532.1L895.6 530.6L905.5 529.3L915.4 528.3L925.3 527.6L937.2 527L949.1 526.6L963 526.3L980.8 526.1L1026.4 525.9L1119.6 525.9" class="cv"/>
<path d="M683.4 755.2L689.4 754.2L693.3 753.4L699.3 752L703.2 750.9L707.2 749.6L711.2 748.2L715.1 746.5L719.1 744.6L723.1 742.4L727 739.9L731 737.1L733 735.5L736.9 732.2L740.9 728.4L744.9 724.2L746.9 721.9L750.8 717L752.8 714.4L756.8 708.7L758.8 705.7L760.7 702.6L764.7 695.9L770.6 685.1L774.6 677.3L780.6 665.1L786.5 652.3L798.4 626.2L806.3 609.5L810.3 601.6L814.3 594.1L818.2 587L822.2 580.5L826.2 574.4L828.1 571.5L832.1 566.2L836.1 561.3L838.1 559.1L842 554.9L846 551.2L848 549.5L851.9 546.4L855.9 543.6L857.9 542.3L861.9 540L867.8 537.1L873.8 534.7L879.7 532.8L883.7 531.7L887.6 530.7L895.6 529.2L903.5 528L913.4 527L923.3 526.2L933.2 525.7L945.1 525.3L959 525L976.9 524.8L1022.5 524.6L1119.6 524.6" class="cv"/>
<path d="M683.4 757.7L691.3 756.1L697.3 754.8L703.2 753.3L709.2 751.6L715.1 749.6L721.1 747.3L727 744.8L731 743L736.9 739.9L740.9 737.6L746.9 733.9L750.8 731.2L756.8 726.8L760.7 723.5L764.7 720.1L768.7 716.5L772.6 712.6L776.6 708.5L780.6 704.2L784.5 699.6L788.5 694.8L792.5 689.9L800.4 679.3L806.3 670.9L814.3 659.2L822.2 647L842 616.2L851.9 601.3L857.9 592.7L863.8 584.6L869.8 576.8L873.8 572L879.7 565L885.6 558.6L891.6 552.7L897.5 547.2L903.5 542.3L909.4 537.8L915.4 533.8L921.3 530.2L927.3 527L931.3 525.1L935.2 523.3L939.2 521.6L943.1 520.1L951.1 517.4L959 515.1L963 514.1L968.9 512.7L978.8 510.9L988.8 509.3L998.7 508.1L1010.6 507L1024.4 506.1L1038.3 505.4L1054.2 504.8L1072 504.4L1093.8 504L1119.6 503.8" class="cv"/>
<path d="M683.4 759.4L729 759.2L762.7 758.8L776.6 758.4L788.5 758L800.4 757.5L810.3 756.9L820.2 756.1L830.1 755.2L838.1 754.2L846 753L853.9 751.6L859.9 750.3L867.8 748.4L873.8 746.7L879.7 744.7L885.6 742.5L891.6 740L897.5 737.3L903.5 734.2L909.4 730.8L913.4 728.4L919.4 724.4L923.3 721.6L929.3 717.2L933.2 714.1L939.2 709.3L949.1 700.8L966.9 685L974.9 678.1L982.8 671.5L988.8 666.8L996.7 661L1004.6 655.7L1008.6 653.2L1012.5 650.9L1016.5 648.8L1020.5 646.8L1024.4 644.9L1030.4 642.3L1034.4 640.8L1040.3 638.7L1044.3 637.4L1050.2 635.7L1056.2 634.2L1062.1 632.9L1068.1 631.7L1074 630.8L1080 629.9L1087.9 628.9L1101.8 627.6L1109.7 627.1L1119.6 626.5" class="cv"/>
<text transform="translate(676.5 448) scale(0.92 1)" class="lt">e</text>
<text transform="translate(662.8 837.8) scale(0.92 1)" class="xl">0</text>
<text transform="translate(728.2 837.8) scale(0.92 1)" class="xl">3</text>
<text transform="translate(793.7 837.8) scale(0.92 1)" class="xl">6</text>
<text transform="translate(859.1 837.8) scale(0.92 1)" class="xl">9</text>
<text transform="translate(924.5 837.8) scale(0.92 1)" class="xl">12</text>
<text transform="translate(990 837.8) scale(0.92 1)" class="xl">15</text>
<text transform="translate(1055.4 837.8) scale(0.92 1)" class="xl">18</text>
<text transform="translate(1118.4 837.8) scale(0.92 1)" class="xl">21</text>
<text transform="translate(905.4 879.9) scale(0.92 1)" class="dl">Days</text>
</g>
<g id="panel-f">
<path d="M1169.4 408.4V770.4" class="dk"/>
<path d="M1646.3 408.4V770.4" class="dk"/>
<path d="M1168.9 408.4H1651.5" class="k1"/>
<path d="M1168.7 770.4H1651.7" class="ax"/>
<path d="M1169.4 770.4v8M1235 770.4v8M1300.5 770.4v8M1366.1 770.4v8M1431.7 770.4v8M1497.3 770.4v8M1562.8 770.4v8M1628.4 770.4v8M1169.4 754.8h-5.5M1169.4 676.6h-5.5M1169.4 598.4h-5.5M1169.4 520.2h-5.5M1169.4 442h-5.5" class="tk"/>
<path d="M1628.5 494.5V522.5M1619.3 494.5h18.4M1619.3 522.5h18.4" class="eb"/>
<g class="f">
<rect x="1225.9" y="714.5" width="17.6" height="17.6"/><rect x="1247.7" y="652.4" width="17.6" height="17.6"/><rect x="1269.6" y="620.9" width="17.6" height="17.6"/><rect x="1291.4" y="579.4" width="17.6" height="17.6"/><rect x="1313.3" y="579.4" width="17.6" height="17.6"/><rect x="1335.2" y="547.9" width="17.6" height="17.6"/><rect x="1357" y="516.4" width="17.6" height="17.6"/><rect x="1378.9" y="516.4" width="17.6" height="17.6"/><rect x="1400.7" y="516.4" width="17.6" height="17.6"/><rect x="1422.6" y="506.1" width="17.6" height="17.6"/><rect x="1444.4" y="506.1" width="17.6" height="17.6"/><rect x="1466.3" y="506.1" width="17.6" height="17.6"/><rect x="1488.2" y="506.1" width="17.6" height="17.6"/><rect x="1510" y="506.1" width="17.6" height="17.6"/><rect x="1531.9" y="495.5" width="17.6" height="17.6"/><rect x="1553.7" y="495.5" width="17.6" height="17.6"/><rect x="1575.6" y="495.5" width="17.6" height="17.6"/><rect x="1597.4" y="495.5" width="17.6" height="17.6"/><rect x="1619.3" y="495.5" width="17.6" height="17.6"/>
</g>
<path d="M1628.5 441.5V461.5M1619.3 441.5h18.4M1619.3 461.5h18.4" class="eb"/>
<g class="f">
<circle cx="1169.1" cy="754.8" r="10.3"/><circle cx="1191" cy="754.8" r="10.3"/><circle cx="1212.8" cy="671.2" r="10.3"/><circle cx="1234.7" cy="588.2" r="10.3"/><circle cx="1256.5" cy="524.5" r="10.3"/><circle cx="1278.4" cy="515.2" r="10.3"/><circle cx="1300.2" cy="504.3" r="10.3"/><circle cx="1322.1" cy="504.3" r="10.3"/><circle cx="1344" cy="493.7" r="10.3"/><circle cx="1365.8" cy="472.8" r="10.3"/><circle cx="1387.7" cy="451.5" r="10.3"/><circle cx="1409.5" cy="451.5" r="10.3"/><circle cx="1431.4" cy="451.5" r="10.3"/><circle cx="1453.2" cy="451.5" r="10.3"/><circle cx="1475.1" cy="451.5" r="10.3"/><circle cx="1497" cy="451.5" r="10.3"/><circle cx="1518.8" cy="451.5" r="10.3"/><circle cx="1540.7" cy="451.5" r="10.3"/><circle cx="1562.5" cy="451.5" r="10.3"/><circle cx="1584.4" cy="451.5" r="10.3"/><circle cx="1606.2" cy="451.5" r="10.3"/><circle cx="1628.1" cy="451.5" r="10.3"/>
</g>
<g class="o">
<circle cx="1169" cy="755" r="10.1"/><circle cx="1191" cy="722.5" r="10.1"/><circle cx="1213" cy="639.5" r="10.1"/><circle cx="1234.5" cy="576.5" r="10.1"/><circle cx="1256.5" cy="546" r="10.1"/><circle cx="1278.5" cy="504.5" r="10.1"/><circle cx="1300" cy="482.5" r="10.1"/><circle cx="1322" cy="482.5" r="10.1"/><circle cx="1344" cy="482.5" r="10.1"/><circle cx="1366" cy="473" r="10.1"/><circle cx="1387.5" cy="473" r="10.1"/><circle cx="1409.5" cy="463" r="10.1"/><circle cx="1431.5" cy="463" r="10.1"/><circle cx="1453" cy="463" r="10.1"/><circle cx="1475" cy="463" r="10.1"/><circle cx="1497" cy="463" r="10.1"/><circle cx="1519" cy="463" r="10.1"/><circle cx="1540.5" cy="463" r="10.1"/><circle cx="1562.5" cy="463" r="10.1"/><circle cx="1584.5" cy="463" r="10.1"/><circle cx="1606" cy="463" r="10.1"/><circle cx="1628" cy="463" r="10.1"/>
</g>
<path d="M1628.5 578.5V598.5M1619.3 578.5h18.4M1619.3 598.5h18.4" class="eb"/>
<g class="o">
<path d="M1169 766.9L1179.3 749.5H1158.7Z"/><path d="M1191 766.9L1201.3 749.5H1180.7Z"/><path d="M1213 766.9L1223.3 749.5H1202.7Z"/><path d="M1234.5 766.9L1244.8 749.5H1224.2Z"/><path d="M1256.5 766.9L1266.8 749.5H1246.2Z"/><path d="M1278.5 766.9L1288.8 749.5H1268.2Z"/><path d="M1300 766.9L1310.3 749.5H1289.7Z"/><path d="M1322 766.9L1332.3 749.5H1311.7Z"/><path d="M1344 755.9L1354.3 738.5H1333.7Z"/><path d="M1366 735.9L1376.3 718.5H1355.7Z"/><path d="M1387.5 735.9L1397.8 718.5H1377.2Z"/><path d="M1409.5 714.9L1419.8 697.5H1399.2Z"/><path d="M1431.5 682.9L1441.8 665.5H1421.2Z"/><path d="M1453 671.9L1463.3 654.5H1442.7Z"/><path d="M1475 661.9L1485.3 644.5H1464.7Z"/><path d="M1497 651.9L1507.3 634.5H1486.7Z"/><path d="M1519 640.9L1529.3 623.5H1508.7Z"/><path d="M1540.5 619.9L1550.8 602.5H1530.2Z"/><path d="M1562.5 619.9L1572.8 602.5H1552.2Z"/><path d="M1584.5 619.9L1594.8 602.5H1574.2Z"/><path d="M1606 609.9L1616.3 592.5H1595.7Z"/><path d="M1628 599.9L1638.3 582.5H1617.7Z"/>
</g>
<path d="M1628.5 473.5V493.5M1619.3 473.5h18.4M1619.3 493.5h18.4" class="eb"/>
<g class="o">
<path d="M1169 743.1L1179.3 760.5H1158.7Z"/><path d="M1191 743.1L1201.3 760.5H1180.7Z"/><path d="M1213 743.1L1223.3 760.5H1202.7Z"/><path d="M1234.5 735.1L1244.8 752.5H1224.2Z"/><path d="M1256.5 733.1L1266.8 750.5H1246.2Z"/><path d="M1278.5 702.1L1288.8 719.5H1268.2Z"/><path d="M1300 681.1L1310.3 698.5H1289.7Z"/><path d="M1322 670.1L1332.3 687.5H1311.7Z"/><path d="M1344 607.1L1354.3 624.5H1333.7Z"/><path d="M1366 607.1L1376.3 624.5H1355.7Z"/><path d="M1387.5 586.1L1397.8 603.5H1377.2Z"/><path d="M1409.5 565.1L1419.8 582.5H1399.2Z"/><path d="M1431.5 545.1L1441.8 562.5H1421.2Z"/><path d="M1453 503.1L1463.3 520.5H1442.7Z"/><path d="M1475 494.1L1485.3 511.5H1464.7Z"/><path d="M1497 494.1L1507.3 511.5H1486.7Z"/><path d="M1519 472.1L1529.3 489.5H1508.7Z"/><path d="M1540.5 472.1L1550.8 489.5H1530.2Z"/><path d="M1562.5 472.1L1572.8 489.5H1552.2Z"/><path d="M1584.5 472.1L1594.8 489.5H1574.2Z"/><path d="M1606 472.1L1616.3 489.5H1595.7Z"/><path d="M1628 472.1L1638.3 489.5H1617.7Z"/>
</g>
<path d="M1628.5 489.5V522.5M1619.3 489.5h18.4M1619.3 522.5h18.4" class="eb"/>
<g class="o">
<rect x="1160.5" y="746.5" width="17" height="17"/><rect x="1182.5" y="746.5" width="17" height="17"/><rect x="1204.5" y="746.5" width="17" height="17"/><rect x="1226.5" y="746.5" width="17" height="17"/><rect x="1248.5" y="732.5" width="17" height="17"/><rect x="1269.5" y="677.5" width="17" height="17"/><rect x="1291.5" y="639.5" width="17" height="17"/><rect x="1313.5" y="609.5" width="17" height="17"/><rect x="1335.5" y="585.5" width="17" height="17"/><rect x="1357.5" y="537.5" width="17" height="17"/><rect x="1379.5" y="522.5" width="17" height="17"/><rect x="1401.5" y="506.5" width="17" height="17"/><rect x="1422.5" y="506.5" width="17" height="17"/><rect x="1444.5" y="506.5" width="17" height="17"/><rect x="1466.5" y="506.5" width="17" height="17"/><rect x="1488.5" y="506.5" width="17" height="17"/><rect x="1510.5" y="492.5" width="17" height="17"/><rect x="1532.5" y="492.5" width="17" height="17"/><rect x="1554.5" y="492.5" width="17" height="17"/><rect x="1575.5" y="492.5" width="17" height="17"/><rect x="1597.5" y="492.5" width="17" height="17"/><rect x="1619.5" y="492.5" width="17" height="17"/>
</g>
<path d="M1169.4 735.8L1173.6 732.2L1177.7 728L1181.9 723.1L1186.1 717.5L1190.3 711.1L1194.4 703.8L1198.6 695.5L1202.8 686.4L1204.9 681.4L1209 670.9L1213.2 659.5L1217.4 647.4L1223.6 628.2L1238.2 582L1242.4 569.4L1246.6 557.3L1250.8 546L1254.9 535.6L1259.1 526L1263.3 517.3L1267.5 509.6L1271.6 502.7L1275.8 496.7L1280 491.4L1284.1 486.8L1288.3 482.9L1292.5 479.5L1294.6 478L1298.8 475.3L1300.8 474.1L1305 472L1307.1 471.1L1311.3 469.5L1317.5 467.5L1323.8 465.9L1328 465.1L1332.1 464.4L1340.5 463.3L1350.9 462.4L1361.3 461.8L1371.8 461.5L1384.3 461.2L1417.7 460.9L1469.8 460.8L1628.4 460.8" class="cv"/>
<path d="M1169.4 740.5L1173.6 737.9L1175.7 736.4L1179.8 732.9L1181.9 731L1184 728.8L1186.1 726.5L1188.2 724L1190.3 721.3L1192.3 718.3L1194.4 715.2L1196.5 711.7L1198.6 708.1L1200.7 704.1L1202.8 699.9L1207 690.6L1209 685.6L1213.2 674.6L1217.4 662.7L1221.6 649.7L1225.7 636.1L1240.3 586L1246.6 565.6L1250.8 553L1252.9 547L1257 535.8L1259.1 530.7L1263.3 521.2L1265.4 516.8L1267.5 512.8L1269.5 509L1271.6 505.5L1273.7 502.2L1275.8 499.2L1277.9 496.3L1280 493.7L1282.1 491.3L1284.1 489.1L1286.2 487.1L1290.4 483.6L1292.5 482L1296.7 479.3L1300.8 477L1302.9 476L1307.1 474.3L1309.2 473.6L1313.4 472.3L1319.6 470.8L1325.9 469.7L1334.2 468.6L1344.7 467.7L1355.1 467.2L1365.5 466.9L1375.9 466.7L1409.3 466.5L1628.4 466.4" class="cv"/>
<path d="M1191.3 743.6L1197.2 741.1L1203.2 738.1L1209.1 734.6L1213.1 731.9L1215.1 730.4L1219.1 727.3L1221.1 725.6L1225 721.9L1227 719.9L1231 715.7L1233 713.4L1237 708.7L1240.9 703.5L1246.9 695.1L1250.9 689L1256.8 679.2L1262.8 668.8L1268.8 657.9L1288.6 620.1L1294.6 609L1298.6 601.8L1304.5 591.6L1308.5 585L1312.5 578.8L1316.4 572.9L1322.4 564.7L1328.4 557.3L1334.3 550.6L1340.3 544.7L1346.2 539.4L1352.2 534.8L1358.2 530.8L1364.1 527.4L1370.1 524.4L1374.1 522.6L1378 521L1382 519.6L1386 518.3L1393.9 516.1L1397.9 515.1L1403.9 513.9L1413.8 512.2L1423.7 511L1435.7 509.9L1447.6 509.1L1461.5 508.4L1477.4 508L1495.3 507.6L1517.1 507.4L1543 507.2L1628.4 507.1" class="cv"/>
<path d="M1191.3 748.5L1197.2 747.4L1203.2 746L1209.1 744.5L1213.1 743.3L1219.1 741.3L1223 739.7L1229 737.1L1233 735.2L1238.9 731.8L1242.9 729.3L1246.9 726.5L1250.9 723.5L1254.8 720.2L1258.8 716.6L1262.8 712.7L1266.8 708.4L1272.7 701.4L1278.7 693.6L1284.6 685.1L1288.6 679L1292.6 672.6L1298.6 662.4L1304.5 651.7L1310.5 640.7L1326.4 610.5L1332.3 599.5L1336.3 592.4L1342.3 582.2L1346.2 575.8L1350.2 569.7L1354.2 563.9L1360.2 555.9L1364.1 551.1L1368.1 546.6L1370.1 544.4L1374.1 540.4L1378 536.8L1384 531.9L1390 527.7L1395.9 524L1401.9 520.9L1405.9 519.1L1409.8 517.5L1415.8 515.4L1419.8 514.2L1423.7 513.1L1431.7 511.2L1435.7 510.5L1441.6 509.5L1451.6 508.2L1461.5 507.2L1473.4 506.4L1485.3 505.8L1499.2 505.4L1515.1 505.1L1556.9 504.7L1628.4 504.6" class="cv"/>
<path d="M1191.3 748.8L1199.2 747.2L1207.2 745.4L1215.1 743.3L1221.1 741.6L1229 739L1235 736.8L1240.9 734.4L1246.9 731.8L1252.9 728.9L1258.8 725.8L1264.8 722.4L1270.7 718.7L1276.7 714.7L1282.7 710.3L1288.6 705.7L1292.6 702.4L1300.5 695.3L1304.5 691.6L1310.5 685.6L1314.5 681.5L1320.4 675.1L1324.4 670.6L1330.3 663.7L1338.3 654.1L1348.2 641.5L1358.2 628.5L1378 602.3L1390 586.9L1395.9 579.5L1401.9 572.2L1407.8 565.3L1413.8 558.6L1421.7 550.2L1427.7 544.2L1433.7 538.6L1439.6 533.3L1445.6 528.4L1451.6 523.8L1457.5 519.5L1465.5 514.3L1471.4 510.8L1479.4 506.5L1487.3 502.7L1495.3 499.3L1503.2 496.3L1513.2 493.1L1521.1 490.9L1531 488.5L1541 486.5L1550.9 484.8L1560.8 483.3L1572.8 481.9L1584.7 480.8L1598.6 479.7L1612.5 478.9L1628.4 478.2" class="cv"/>
<path d="M1191.3 752.9L1223 752.4L1237 752L1248.9 751.5L1260.8 750.9L1270.7 750.3L1280.7 749.5L1290.6 748.5L1298.6 747.6L1306.5 746.5L1314.5 745.2L1322.4 743.7L1330.3 741.9L1336.3 740.4L1344.3 738.1L1350.2 736.1L1356.2 733.9L1362.1 731.5L1368.1 728.8L1374.1 725.9L1380 722.7L1386 719.3L1391.9 715.5L1397.9 711.5L1401.9 708.7L1407.8 704.3L1413.8 699.7L1419.8 694.8L1431.7 684.6L1451.6 667.1L1459.5 660.1L1469.4 651.8L1477.4 645.5L1483.3 641.1L1487.3 638.3L1495.3 632.9L1503.2 628.1L1507.2 625.9L1513.2 622.7L1519.1 619.9L1525.1 617.2L1531 614.9L1537 612.7L1543 610.8L1548.9 609.1L1554.9 607.5L1562.8 605.7L1568.8 604.6L1576.7 603.2L1584.7 602L1592.6 601L1600.6 600.2L1608.5 599.5L1618.5 598.8L1628.4 598.2" class="cv"/>
<text transform="translate(1182.5 455) scale(0.92 1)" class="lt">f</text>
<text transform="translate(1170.6 835.9) scale(0.92 1)" class="xl">0</text>
<text transform="translate(1236.2 835.9) scale(0.92 1)" class="xl">3</text>
<text transform="translate(1301.7 835.9) scale(0.92 1)" class="xl">6</text>
<text transform="translate(1367.3 835.9) scale(0.92 1)" class="xl">9</text>
<text transform="translate(1432.9 835.9) scale(0.92 1)" class="xl">12</text>
<text transform="translate(1498.5 835.9) scale(0.92 1)" class="xl">15</text>
<text transform="translate(1564 835.9) scale(0.92 1)" class="xl">18</text>
<text transform="translate(1627.2 835.9) scale(0.92 1)" class="xl">21</text>
<text transform="translate(1415.1 877.8) scale(0.92 1)" class="dl">Days</text>
</g>
<g id="panel-g">
<path d="M148 817V1179" class="dk"/>
<path d="M628 817V1179" class="md"/>
<path d="M147.5 817H628.5" class="g17"/>
<path d="M147.3 1179H628.7" class="ax"/>
<path d="M148 1179v8M213.5 1179v8M279.1 1179v8M344.6 1179v8M410.2 1179v8M475.7 1179v8M541.3 1179v8M606.8 1179v8M148 1163h-5.5M148 1084.6h-5.5M148 1006.2h-5.5M148 927.8h-5.5M148 849.4h-5.5" class="tk"/>
<g class="f">
<circle cx="147.7" cy="1163" r="10.3"/><circle cx="169.5" cy="1163" r="10.3"/><circle cx="191.4" cy="1057.9" r="10.3"/><circle cx="213.2" cy="943.5" r="10.3"/><circle cx="235.1" cy="891.7" r="10.3"/><circle cx="256.9" cy="849.4" r="10.3"/><circle cx="278.8" cy="849.4" r="10.3"/><circle cx="300.6" cy="849.4" r="10.3"/><circle cx="322.5" cy="849.4" r="10.3"/><circle cx="344.3" cy="849.4" r="10.3"/><circle cx="366.2" cy="849.4" r="10.3"/><circle cx="388" cy="849.4" r="10.3"/><circle cx="409.9" cy="849.4" r="10.3"/><circle cx="431.7" cy="849.4" r="10.3"/><circle cx="453.6" cy="849.4" r="10.3"/><circle cx="475.4" cy="849.4" r="10.3"/><circle cx="497.3" cy="849.4" r="10.3"/><circle cx="519.1" cy="849.4" r="10.3"/><circle cx="541" cy="849.4" r="10.3"/><circle cx="562.8" cy="849.4" r="10.3"/><circle cx="584.7" cy="849.4" r="10.3"/><circle cx="606.5" cy="849.4" r="10.3"/>
</g>
<path d="M606.5 860.5V879.5M597.3 860.5h18.4M597.3 879.5h18.4" class="eb"/>
<g class="o">
<circle cx="147.5" cy="1163" r="10.1"/><circle cx="169.5" cy="1131.5" r="10.1"/><circle cx="191.5" cy="1069" r="10.1"/><circle cx="213" cy="975" r="10.1"/><circle cx="235" cy="922.5" r="10.1"/><circle cx="257" cy="912" r="10.1"/><circle cx="279" cy="912" r="10.1"/><circle cx="300.5" cy="891.5" r="10.1"/><circle cx="322.5" cy="881" r="10.1"/><circle cx="344.5" cy="870" r="10.1"/><circle cx="366" cy="870" r="10.1"/><circle cx="388" cy="870" r="10.1"/><circle cx="410" cy="870" r="10.1"/><circle cx="431.5" cy="870" r="10.1"/><circle cx="453.5" cy="870" r="10.1"/><circle cx="475.5" cy="870" r="10.1"/><circle cx="497.5" cy="870" r="10.1"/><circle cx="519" cy="870" r="10.1"/><circle cx="541" cy="870" r="10.1"/><circle cx="563" cy="870" r="10.1"/><circle cx="584.5" cy="870" r="10.1"/><circle cx="606.5" cy="870" r="10.1"/>
</g>
<path d="M606.5 988.5V1024.5M597.3 988.5h18.4M597.3 1024.5h18.4" class="eb"/>
<g class="o">
<path d="M147.5 1174.9L157.8 1157.5H137.2Z"/><path d="M169.5 1174.9L179.8 1157.5H159.2Z"/><path d="M191.5 1174.9L201.8 1157.5H181.2Z"/><path d="M213 1174.9L223.3 1157.5H202.7Z"/><path d="M235 1174.9L245.3 1157.5H224.7Z"/><path d="M257 1174.9L267.3 1157.5H246.7Z"/><path d="M279 1174.9L289.3 1157.5H268.7Z"/><path d="M300.5 1174.9L310.8 1157.5H290.2Z"/><path d="M322.5 1174.9L332.8 1157.5H312.2Z"/><path d="M344.5 1163.9L354.8 1146.5H334.2Z"/><path d="M366 1143.9L376.3 1126.5H355.7Z"/><path d="M388 1132.9L398.3 1115.5H377.7Z"/><path d="M410 1132.9L420.3 1115.5H399.7Z"/><path d="M431.5 1111.9L441.8 1094.5H421.2Z"/><path d="M453.5 1090.9L463.8 1073.5H443.2Z"/><path d="M475.5 1059.9L485.8 1042.5H465.2Z"/><path d="M497.5 1048.9L507.8 1031.5H487.2Z"/><path d="M519 1038.9L529.3 1021.5H508.7Z"/><path d="M541 1038.9L551.3 1021.5H530.7Z"/><path d="M563 1038.9L573.3 1021.5H552.7Z"/><path d="M584.5 1018.9L594.8 1001.5H574.2Z"/><path d="M606.5 1018.9L616.8 1001.5H596.2Z"/>
</g>
<path d="M606.5 891.5V912.5M597.3 891.5h18.4M597.3 912.5h18.4" class="eb"/>
<g class="f">
<rect x="204.4" y="1113.1" width="17.6" height="17.6"/><rect x="226.3" y="1070.5" width="17.6" height="17.6"/><rect x="248.1" y="1028.8" width="17.6" height="17.6"/><rect x="270" y="997.4" width="17.6" height="17.6"/><rect x="291.8" y="976.1" width="17.6" height="17.6"/><rect x="313.7" y="934.7" width="17.6" height="17.6"/><rect x="335.5" y="914.3" width="17.6" height="17.6"/><rect x="357.4" y="893.3" width="17.6" height="17.6"/><rect x="379.2" y="893.3" width="17.6" height="17.6"/><rect x="401.1" y="893.3" width="17.6" height="17.6"/><rect x="422.9" y="893.3" width="17.6" height="17.6"/><rect x="444.8" y="893.3" width="17.6" height="17.6"/><rect x="466.6" y="893.3" width="17.6" height="17.6"/><rect x="488.5" y="893.3" width="17.6" height="17.6"/><rect x="510.3" y="893.3" width="17.6" height="17.6"/><rect x="532.2" y="893.3" width="17.6" height="17.6"/><rect x="554" y="893.3" width="17.6" height="17.6"/><rect x="575.9" y="893.3" width="17.6" height="17.6"/><rect x="597.7" y="893.3" width="17.6" height="17.6"/>
</g>
<path d="M606.5 862.5V880.5M597.3 862.5h18.4" class="eb"/>
<g class="o">
<path d="M147.5 1151.1L157.8 1168.5H137.2Z"/><path d="M169.5 1151.1L179.8 1168.5H159.2Z"/><path d="M191.5 1151.1L201.8 1168.5H181.2Z"/><path d="M213 1120.1L223.3 1137.5H202.7Z"/><path d="M235 1120.1L245.3 1137.5H224.7Z"/><path d="M257 1109.1L267.3 1126.5H246.7Z"/><path d="M279 1109.1L289.3 1126.5H268.7Z"/><path d="M300.5 1078.1L310.8 1095.5H290.2Z"/><path d="M322.5 1015.1L332.8 1032.5H312.2Z"/><path d="M344.5 1015.1L354.8 1032.5H334.2Z"/><path d="M366 984.1L376.3 1001.5H355.7Z"/><path d="M388 963.1L398.3 980.5H377.7Z"/><path d="M410 922.1L420.3 939.5H399.7Z"/><path d="M431.5 922.1L441.8 939.5H421.2Z"/><path d="M453.5 922.1L463.8 939.5H443.2Z"/><path d="M475.5 922.1L485.8 939.5H465.2Z"/><path d="M497.5 901.1L507.8 918.5H487.2Z"/><path d="M519 890.1L529.3 907.5H508.7Z"/><path d="M541 879.1L551.3 896.5H530.7Z"/><path d="M563 869.1L573.3 886.5H552.7Z"/><path d="M584.5 869.1L594.8 886.5H574.2Z"/><path d="M606.5 869.1L616.8 886.5H596.2Z"/>
</g>
<g class="o">
<rect x="139.5" y="1154.5" width="17" height="17"/><rect x="161.5" y="1154.5" width="17" height="17"/><rect x="182.5" y="1154.5" width="17" height="17"/><rect x="204.5" y="1154.5" width="17" height="17"/><rect x="226.5" y="1127.5" width="17" height="17"/><rect x="248.5" y="1071.5" width="17" height="17"/><rect x="270.5" y="1033.5" width="17" height="17"/><rect x="292.5" y="992.5" width="17" height="17"/><rect x="313.5" y="965.5" width="17" height="17"/><rect x="335.5" y="863.5" width="17" height="17"/><rect x="357.5" y="875.5" width="17" height="17"/><rect x="379.5" y="887.5" width="17" height="17"/><rect x="401.5" y="887.5" width="17" height="17"/><rect x="423.5" y="887.5" width="17" height="17"/><rect x="445.5" y="887.5" width="17" height="17"/><rect x="466.5" y="874.5" width="17" height="17"/><rect x="488.5" y="874.5" width="17" height="17"/><rect x="510.5" y="874.5" width="17" height="17"/><rect x="532.5" y="874.5" width="17" height="17"/><rect x="554.5" y="874.5" width="17" height="17"/><rect x="576.5" y="874.5" width="17" height="17"/><rect x="598.5" y="874.5" width="17" height="17"/>
</g>
<path d="M148 1149.1L150.1 1147.5L152.2 1145.9L154.3 1144L156.3 1141.9L158.4 1139.6L160.5 1137.1L162.6 1134.3L164.7 1131.2L166.8 1127.8L168.9 1124.1L170.9 1119.9L173 1115.4L175.1 1110.4L177.2 1105L179.3 1099L181.4 1092.6L183.5 1085.6L185.5 1078L187.6 1069.9L189.7 1061.2L191.8 1052L193.9 1042.3L198.1 1021.4L208.5 965.9L212.7 944.7L214.7 934.8L216.8 925.5L218.9 916.9L221 908.9L223.1 901.6L225.2 895.1L227.2 889.2L229.3 884L231.4 879.4L233.5 875.4L235.6 871.9L237.7 868.9L239.8 866.3L241.8 864L243.9 862.1L246 860.5L248.1 859.1L250.2 857.9L252.3 856.8L254.4 856L258.5 854.6L262.7 853.7L266.9 853L273.1 852.3L281.5 851.8L289.8 851.6L304.4 851.4L329.4 851.3L606.8 851.3" class="cv"/>
<path d="M148 1159L150.1 1158.1L152.2 1156.9L154.3 1155.5L156.3 1153.9L158.4 1152L160.5 1149.7L162.6 1147.1L164.7 1144L166.8 1140.5L168.9 1136.6L170.9 1132.2L173 1127.2L175.1 1121.8L177.2 1115.8L179.3 1109.4L181.4 1102.5L185.5 1087.3L187.6 1079.2L191.8 1062.2L204.3 1009.3L208.5 992.6L212.7 977.1L216.8 962.8L221 950L223.1 944.2L225.2 938.6L227.2 933.5L229.3 928.7L231.4 924.2L233.5 920L235.6 916.2L237.7 912.6L239.8 909.3L241.8 906.3L243.9 903.5L246 901L248.1 898.6L250.2 896.5L252.3 894.5L254.4 892.7L256.4 891L260.6 888.2L264.8 885.8L266.9 884.7L271 882.9L273.1 882.1L277.3 880.8L283.6 879.2L287.7 878.3L291.9 877.6L300.2 876.6L310.7 875.7L321.1 875.2L331.5 874.9L342 874.7L375.3 874.5L606.8 874.4" class="cv"/>
<path d="M169.8 1155.2L173.8 1153.9L177.8 1152.3L183.8 1149.6L187.7 1147.5L189.7 1146.3L193.7 1143.7L195.7 1142.3L199.6 1139.2L201.6 1137.5L205.6 1133.8L207.6 1131.8L211.6 1127.5L213.5 1125.1L217.5 1120.1L219.5 1117.5L223.5 1111.8L229.4 1102.4L233.4 1095.6L239.4 1084.6L243.3 1076.9L249.3 1064.8L269.2 1022.5L275.1 1010.2L279.1 1002.2L285 990.8L289 983.5L293 976.7L297 970.2L302.9 961.3L306.9 955.8L308.9 953.2L312.9 948.3L314.8 946L318.8 941.7L320.8 939.7L324.8 935.9L330.7 930.8L336.7 926.3L342.6 922.5L348.6 919.2L352.6 917.3L356.5 915.6L360.5 914L364.5 912.6L368.5 911.4L372.4 910.3L376.4 909.3L382.4 907.9L392.3 906.2L402.2 904.9L414.1 903.7L426.1 902.9L440 902.2L455.9 901.7L473.7 901.4L495.6 901.2L521.4 901L606.8 900.9" class="cv"/>
<path d="M169.8 1160.4L175.8 1159.7L181.8 1158.8L187.7 1157.6L193.7 1156.2L199.6 1154.4L203.6 1152.9L207.6 1151.2L211.6 1149.3L215.5 1147L219.5 1144.5L223.5 1141.5L227.4 1138.2L231.4 1134.4L235.4 1130.1L239.4 1125.2L241.4 1122.6L245.3 1116.9L247.3 1113.8L251.3 1107.2L253.3 1103.7L255.3 1100L259.2 1092.2L265.2 1079.4L269.2 1070.3L275.1 1055.7L281.1 1040.5L295 1004.3L298.9 994.2L302.9 984.5L306.9 975.2L310.9 966.4L314.8 958.1L318.8 950.4L322.8 943.2L324.8 939.8L328.7 933.5L332.7 927.8L334.7 925.1L338.7 920.2L342.6 915.7L344.6 913.7L348.6 909.9L350.6 908.2L354.6 905L356.5 903.6L360.5 901L362.5 899.8L366.5 897.6L372.4 894.8L378.4 892.6L382.4 891.3L386.3 890.1L390.3 889.2L394.3 888.3L402.2 886.9L412.2 885.6L422.1 884.7L432 884.1L443.9 883.6L457.8 883.2L475.7 882.9L519.4 882.6L606.8 882.6" class="cv"/>
<path d="M169.8 1158.1L177.8 1156.4L183.8 1155L191.7 1152.8L197.7 1151.1L205.6 1148.4L211.6 1146.2L217.5 1143.8L223.5 1141.1L229.4 1138.2L235.4 1135L241.4 1131.6L247.3 1127.8L253.3 1123.8L259.2 1119.5L265.2 1114.8L269.2 1111.5L277.1 1104.5L281.1 1100.8L287 1094.9L291 1090.8L297 1084.4L306.9 1073.2L314.8 1063.7L324.8 1051.4L332.7 1041.2L354.6 1012.9L366.5 997.9L372.4 990.6L378.4 983.5L384.4 976.7L390.3 970.2L398.3 961.9L404.2 956L410.2 950.5L416.1 945.3L422.1 940.4L428.1 935.9L434 931.7L442 926.5L447.9 923L455.9 918.7L463.8 914.9L471.7 911.5L479.7 908.5L489.6 905.2L497.6 903L507.5 900.5L517.4 898.5L527.4 896.7L539.3 895L551.2 893.6L563.1 892.5L577 891.4L590.9 890.6L606.8 889.9" class="cv"/>
<path d="M169.8 1163.1L209.6 1162.7L225.5 1162.4L241.4 1162L253.3 1161.6L265.2 1161.1L277.1 1160.4L287 1159.6L297 1158.6L306.9 1157.4L314.8 1156.2L322.8 1154.9L330.7 1153.2L338.7 1151.3L346.6 1149L352.6 1147L358.5 1144.9L364.5 1142.4L370.5 1139.7L376.4 1136.8L382.4 1133.5L388.3 1130L394.3 1126.1L400.2 1122L404.2 1119L410.2 1114.4L416.1 1109.5L422.1 1104.5L432 1095.6L457.8 1071.9L465.8 1064.9L473.7 1058.2L479.7 1053.5L483.7 1050.5L491.6 1044.9L499.6 1039.7L507.5 1035.1L511.5 1033.1L517.4 1030.1L523.4 1027.5L529.3 1025.2L533.3 1023.7L539.3 1021.7L545.2 1020L551.2 1018.4L557.2 1017L563.1 1015.8L569.1 1014.7L577 1013.5L583 1012.7L590.9 1011.8L598.9 1011L606.8 1010.4" class="cv"/>
<text transform="translate(159.5 856) scale(0.92 1)" class="lt">g</text>
<text transform="translate(121.5 864.1) scale(0.92 1)" class="yl">100</text>
<text transform="translate(122.1 942.5) scale(0.92 1)" class="yl">75</text>
<text transform="translate(121.5 1020.9) scale(0.92 1)" class="yl">50</text>
<text transform="translate(122.1 1099.3) scale(0.92 1)" class="yl">25</text>
<text transform="translate(121.5 1177.7) scale(0.92 1)" class="yl">0</text>
<text transform="translate(149.2 1244.6) scale(0.92 1)" class="xl">0</text>
<text transform="translate(214.7 1244.6) scale(0.92 1)" class="xl">3</text>
<text transform="translate(280.3 1244.6) scale(0.92 1)" class="xl">6</text>
<text transform="translate(345.8 1244.6) scale(0.92 1)" class="xl">9</text>
<text transform="translate(411.4 1244.6) scale(0.92 1)" class="xl">12</text>
<text transform="translate(476.9 1244.6) scale(0.92 1)" class="xl">15</text>
<text transform="translate(542.5 1244.6) scale(0.92 1)" class="xl">18</text>
<text transform="translate(605.6 1244.6) scale(0.92 1)" class="xl">21</text>
<text transform="translate(385.5 1292.1) scale(0.92 1)" class="dl">Days</text>
</g>
<text class="ya" transform="translate(27.8 550.9) rotate(-90) scale(0.92 1)">Cumulative seed germination (%)</text>
</svg>
</body>
</html>
